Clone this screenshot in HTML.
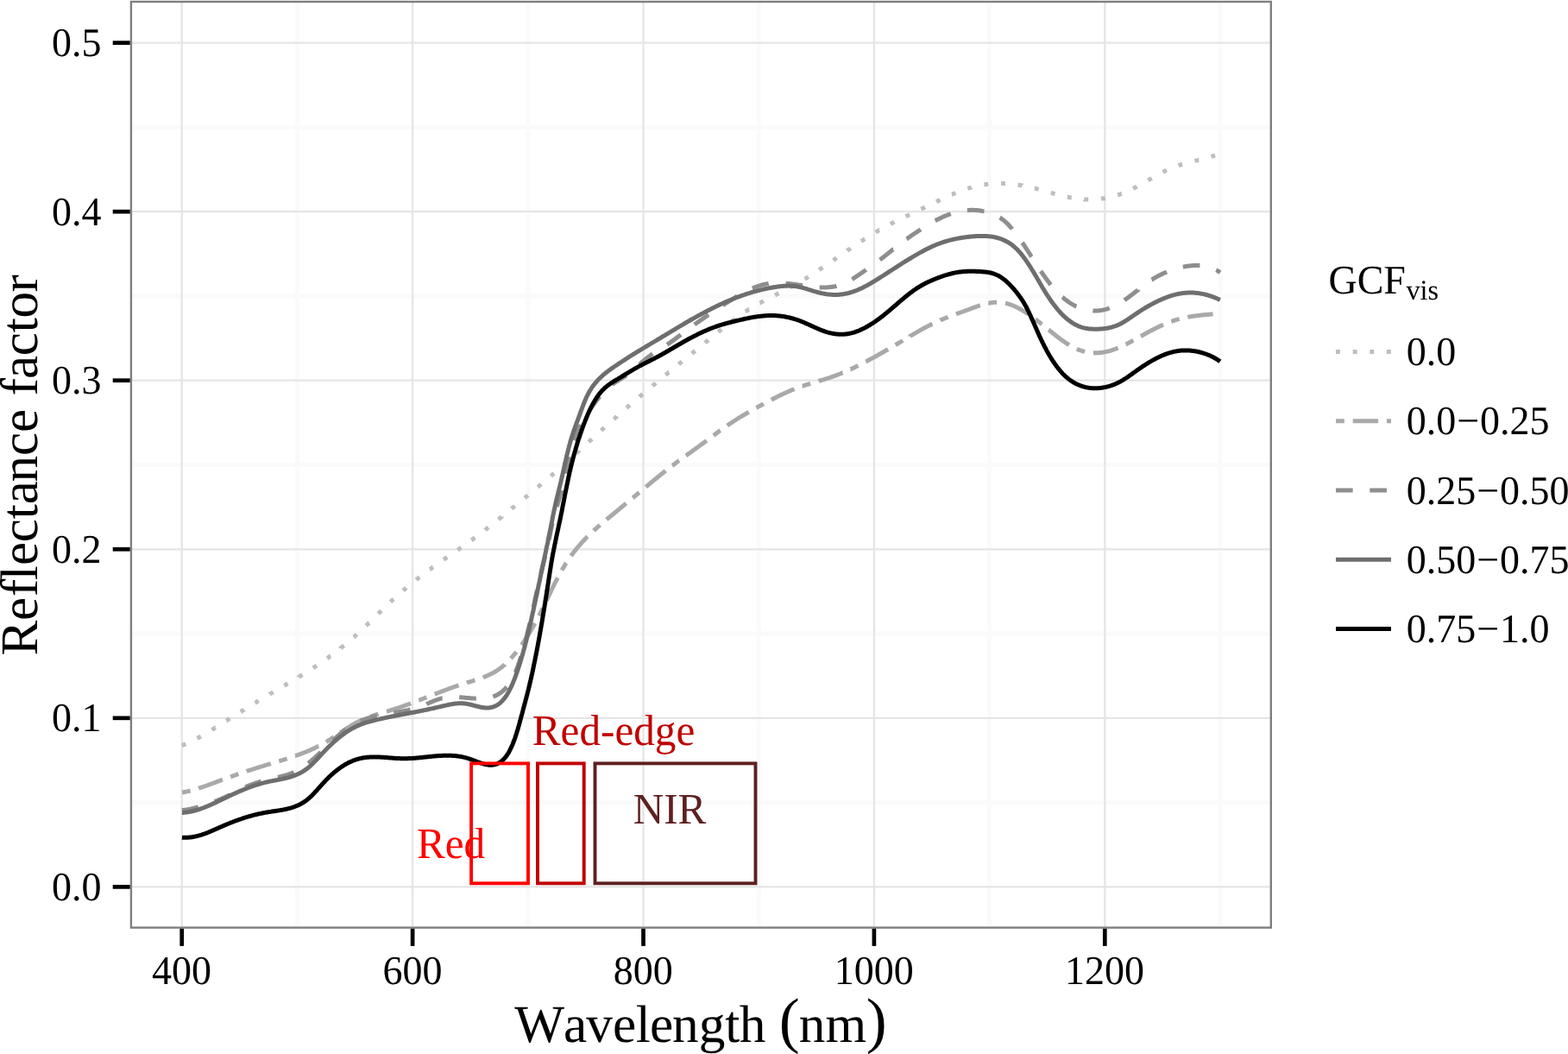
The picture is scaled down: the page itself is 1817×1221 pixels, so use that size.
<!DOCTYPE html>
<html lang="en">
<head>
<meta charset="utf-8">
<title>Reflectance factor vs Wavelength (nm)</title>
<style>
html, body { margin: 0; padding: 0; background: #ffffff; }
body { width: 1817px; height: 1221px; overflow: hidden; }
svg { display: block; }
svg text { font-kerning: none; font-variant-ligatures: none; text-rendering: geometricPrecision; white-space: pre; }
</style>
</head>
<body>
<svg width="1817" height="1221" viewBox="0 0 1817 1221" font-family='"Liberation Serif", "DejaVu Serif", serif'>
<rect x="0" y="0" width="1817" height="1221" fill="#ffffff"/>
<g stroke="#fafafa" stroke-width="4.9" fill="none">
<line x1="344.40" y1="2.0" x2="344.40" y2="1074.6"/>
<line x1="611.80" y1="2.0" x2="611.80" y2="1074.6"/>
<line x1="879.20" y1="2.0" x2="879.20" y2="1074.6"/>
<line x1="1146.60" y1="2.0" x2="1146.60" y2="1074.6"/>
<line x1="1414.00" y1="2.0" x2="1414.00" y2="1074.6"/>
<line x1="151.9" y1="929.62" x2="1472.8" y2="929.62"/>
<line x1="151.9" y1="734.06" x2="1472.8" y2="734.06"/>
<line x1="151.9" y1="538.50" x2="1472.8" y2="538.50"/>
<line x1="151.9" y1="342.94" x2="1472.8" y2="342.94"/>
<line x1="151.9" y1="147.38" x2="1472.8" y2="147.38"/>
</g>
<g stroke="#e5e5e5" stroke-width="2.3" fill="none">
<line x1="210.70" y1="2.0" x2="210.70" y2="1074.6"/>
<line x1="478.10" y1="2.0" x2="478.10" y2="1074.6"/>
<line x1="745.50" y1="2.0" x2="745.50" y2="1074.6"/>
<line x1="1012.90" y1="2.0" x2="1012.90" y2="1074.6"/>
<line x1="1280.30" y1="2.0" x2="1280.30" y2="1074.6"/>
<line x1="151.9" y1="1027.40" x2="1472.8" y2="1027.40"/>
<line x1="151.9" y1="831.84" x2="1472.8" y2="831.84"/>
<line x1="151.9" y1="636.28" x2="1472.8" y2="636.28"/>
<line x1="151.9" y1="440.72" x2="1472.8" y2="440.72"/>
<line x1="151.9" y1="245.16" x2="1472.8" y2="245.16"/>
<line x1="151.9" y1="49.60" x2="1472.8" y2="49.60"/>
</g>
<g fill="none" stroke-width="5.0" stroke-linejoin="round" stroke-linecap="butt">
<path d="M210.8,863.6 211.8,863.3 212.7,862.9 213.6,862.5 214.5,862.1 215.3,861.8M228.5,855.3 228.9,855.1 229.8,854.6 230.7,854.2 231.6,853.7 232.4,853.2 232.8,853.0M245.5,845.5 246.2,845.0 247.1,844.5 247.9,844.0 248.8,843.5 249.6,842.9 249.7,842.9M262.1,835.0 262.3,834.9 263.1,834.4 264.0,833.8 264.8,833.3 265.7,832.8 266.3,832.4M278.8,824.6 279.3,824.3 280.1,823.8 281.0,823.2 281.8,822.7 282.7,822.2 282.9,822.0M295.5,814.3 296.3,813.9 297.2,813.3 298.0,812.8 298.9,812.3 299.7,811.8M312.4,804.3 312.6,804.1 313.5,803.6 314.4,803.1 315.2,802.6 316.1,802.1 316.6,801.8M329.3,794.3 329.9,794.0 330.7,793.5 331.6,793.0 332.5,792.4 333.3,791.9 333.5,791.8M346.2,784.3 346.2,784.2 347.1,783.7 347.9,783.2 348.8,782.7 349.6,782.2 350.4,781.7M362.8,773.8 363.1,773.6 364.0,773.0 364.8,772.5 365.7,771.9 366.5,771.4 366.9,771.1M379.1,762.7 379.7,762.3 380.5,761.7 381.3,761.1 382.1,760.5 382.9,759.9 383.1,759.8M394.8,750.9 394.8,750.8 395.6,750.2 396.4,749.6 397.2,749.0 397.9,748.3 398.6,747.8M409.8,738.2 410.1,738.0 410.9,737.3 411.6,736.6 412.3,735.9 413.1,735.3 413.5,734.9M424.2,724.8 424.7,724.3 425.5,723.6 426.2,722.9 426.9,722.2 427.6,721.5 427.8,721.4M438.3,711.0 438.3,711.0 439.0,710.3 439.7,709.6 440.5,708.9 441.2,708.2 441.8,707.6M452.5,697.3 452.7,697.1 453.4,696.4 454.2,695.7 454.9,695.1 455.6,694.4 456.1,694.0M467.1,684.2 467.6,683.7 468.4,683.1 469.1,682.4 469.9,681.8 470.6,681.2 470.8,681.0M482.3,671.7 483.1,671.0 483.8,670.4 484.6,669.8 485.4,669.2 486.2,668.6M498.0,659.7 498.2,659.6 499.0,659.0 499.8,658.4 500.6,657.8 501.4,657.2 501.9,656.9M514.0,648.3 514.5,648.0 515.3,647.4 516.2,646.9 517.0,646.3 517.8,645.7 518.1,645.5M530.2,637.2 531.0,636.7 531.8,636.1 532.6,635.5 533.5,634.9 534.3,634.4 534.3,634.4M546.3,625.8 546.5,625.7 547.3,625.1 548.1,624.5 548.9,623.9 549.7,623.3 550.3,622.9M562.1,614.0 562.5,613.6 563.3,613.0 564.1,612.4 564.9,611.8 565.6,611.2 566.0,610.9M577.5,601.7 578.2,601.2 578.9,600.6 579.7,599.9 580.5,599.3 581.3,598.7 581.3,598.6M592.8,589.3 592.9,589.2 593.7,588.6 594.4,587.9 595.2,587.3 596.0,586.7 596.6,586.2M608.0,576.8 608.4,576.5 609.2,575.9 609.9,575.3 610.7,574.6 611.5,574.0 611.8,573.7M623.2,564.3 623.8,563.8 624.6,563.2 625.3,562.5 626.1,561.9 626.9,561.2 627.0,561.1M638.3,551.5 638.3,551.5 639.1,550.9 639.8,550.2 640.6,549.5 641.3,548.9 642.0,548.3M653.0,538.5 653.3,538.3 654.1,537.6 654.8,536.9 655.5,536.3 656.3,535.6 656.7,535.2M667.6,525.3 668.1,524.8 668.8,524.1 669.6,523.5 670.3,522.8 671.1,522.1 671.2,521.9M682.1,511.9 682.8,511.3 683.6,510.6 684.3,509.9 685.1,509.3 685.8,508.6M696.7,498.7 696.9,498.5 697.6,497.8 698.4,497.1 699.1,496.5 699.9,495.8 700.3,495.4M711.3,485.5 711.8,485.1 712.5,484.5 713.3,483.8 714.0,483.1 714.8,482.5 715.0,482.2M726.1,472.5 726.8,471.9 727.6,471.2 728.3,470.6 729.1,469.9 729.8,469.3 729.8,469.3M741.0,459.7 741.2,459.5 742.0,458.9 742.7,458.2 743.5,457.6 744.3,456.9 744.8,456.5M756.1,447.0 756.5,446.6 757.3,446.0 758.1,445.4 758.8,444.7 759.6,444.1 759.9,443.8M771.3,434.4 771.9,433.9 772.7,433.2 773.5,432.6 774.2,432.0 775.0,431.3 775.1,431.3M786.5,421.9 786.6,421.8 787.4,421.2 788.2,420.6 788.9,419.9 789.7,419.3 790.3,418.8M801.7,409.5 802.1,409.2 802.9,408.6 803.7,407.9 804.5,407.3 805.2,406.7 805.6,406.4M817.0,397.1 817.6,396.5 818.4,395.9 819.2,395.3 820.0,394.6 820.7,394.0 820.8,393.9M832.3,384.6 832.4,384.5 833.1,383.9 833.9,383.3 834.7,382.7 835.5,382.0 836.1,381.5M847.7,372.5 848.1,372.2 848.9,371.6 849.7,371.0 850.5,370.4 851.3,369.8 851.7,369.5M863.7,361.0 864.4,360.6 865.3,360.1 866.1,359.5 866.9,359.0 867.8,358.4 867.9,358.4M880.6,350.9 880.7,350.9 881.6,350.4 882.5,349.9 883.4,349.4 884.3,349.0 884.9,348.6M898.1,341.9 898.5,341.7 899.4,341.2 900.3,340.8 901.2,340.3 902.1,339.9 902.5,339.7M915.6,333.0 916.3,332.6 917.2,332.1 918.1,331.6 919.0,331.1 919.8,330.7 919.9,330.6M932.6,323.2 932.8,323.1 933.6,322.6 934.5,322.1 935.4,321.5 936.2,321.0 936.8,320.6M949.2,312.6 949.6,312.3 950.5,311.8 951.3,311.2 952.1,310.7 953.0,310.1 953.3,309.9M965.5,301.6 966.2,301.1 967.0,300.5 967.8,299.9 968.7,299.4 969.5,298.8 969.5,298.8M981.7,290.4 981.8,290.3 982.7,289.7 983.5,289.2 984.3,288.6 985.2,288.1 985.8,287.6M998.0,279.5 998.5,279.2 999.3,278.6 1000.2,278.1 1001.0,277.6 1001.8,277.0 1002.2,276.8M1014.7,269.0 1015.5,268.6 1016.3,268.1 1017.2,267.6 1018.0,267.1 1018.9,266.6 1019.0,266.6M1031.9,259.5 1032.1,259.4 1033.0,258.9 1033.9,258.5 1034.7,258.0 1035.6,257.6 1036.3,257.2M1049.6,250.7 1050.0,250.5 1050.9,250.1 1051.8,249.6 1052.7,249.2 1053.6,248.8 1054.0,248.6M1067.3,242.3 1068.1,241.9 1069.0,241.5 1069.9,241.0 1070.8,240.6 1071.7,240.2 1071.8,240.1M1085.0,233.7 1085.2,233.6 1086.1,233.2 1087.0,232.7 1087.9,232.3 1088.8,231.9 1089.5,231.5M1102.9,225.3 1103.3,225.2 1104.2,224.8 1105.1,224.4 1106.1,224.0 1107.0,223.6 1107.4,223.4M1121.3,218.3 1122.0,218.1 1123.0,217.8 1123.9,217.5 1124.9,217.3 1125.8,217.0 1126.0,216.9M1140.4,213.9 1140.5,213.9 1141.5,213.7 1142.5,213.6 1143.5,213.5 1144.5,213.3 1145.3,213.2M1160.0,212.5 1160.4,212.5 1161.4,212.5 1162.4,212.6 1163.4,212.6 1164.4,212.6 1164.9,212.6M1179.6,214.1 1180.4,214.2 1181.4,214.3 1182.3,214.5 1183.3,214.7 1184.3,214.8 1184.4,214.9M1198.8,218.1 1199.0,218.1 1199.9,218.3 1200.9,218.6 1201.9,218.9 1202.8,219.1 1203.6,219.3M1217.8,223.3 1218.2,223.4 1219.2,223.7 1220.2,224.0 1221.1,224.2 1222.1,224.5 1222.5,224.6M1236.8,228.2 1237.6,228.3 1238.6,228.5 1239.6,228.7 1240.6,228.9 1241.5,229.1 1241.7,229.1M1256.3,230.9 1256.4,231.0 1257.4,231.0 1258.4,231.1 1259.4,231.1 1260.4,231.1 1261.2,231.1M1275.9,230.3 1276.4,230.2 1277.4,230.1 1278.4,230.0 1279.4,229.8 1280.4,229.7 1280.8,229.6M1295.1,226.0 1295.9,225.8 1296.8,225.4 1297.8,225.1 1298.7,224.8 1299.6,224.4 1299.7,224.4M1313.1,218.4 1313.3,218.3 1314.2,217.9 1315.1,217.4 1316.0,216.9 1316.9,216.5 1317.5,216.1M1330.3,208.9 1330.8,208.6 1331.7,208.1 1332.5,207.6 1333.4,207.1 1334.3,206.6 1334.6,206.4M1347.5,199.3 1348.3,198.9 1349.2,198.5 1350.1,198.0 1351.0,197.6 1351.9,197.2M1365.6,191.7 1365.8,191.6 1366.8,191.3 1367.7,191.0 1368.7,190.7 1369.7,190.4 1370.2,190.3M1384.5,186.5 1385.1,186.3 1386.1,186.1 1387.1,185.8 1388.0,185.6 1389.0,185.3 1389.2,185.3M1403.5,181.4 1403.5,181.4 1404.4,181.1 1405.4,180.8 1406.3,180.5 1407.3,180.2 1408.1,179.9" stroke="#bebebe"/>
<path d="M211.0,918.0 211.9,917.9 212.9,917.7 213.9,917.5 214.9,917.3 215.8,917.1 216.8,916.9 217.8,916.6 218.8,916.4 219.7,916.2 220.6,916.0M230.1,913.2 230.3,913.1 231.3,912.8 232.2,912.5 233.2,912.2 234.1,911.9 235.1,911.6 236.0,911.2 237.0,910.9 237.9,910.6 238.8,910.3 239.8,909.9 240.7,909.6 241.7,909.2 242.6,908.9 243.6,908.5 244.5,908.2 245.4,907.9 246.4,907.5 247.3,907.2 248.2,906.8 249.2,906.5 250.1,906.1 251.1,905.8 252.0,905.4 252.9,905.1 253.9,904.7 254.8,904.4 255.7,904.0 256.7,903.7 257.6,903.3 257.9,903.2M267.1,899.9 268.0,899.6 268.9,899.2 269.8,898.9 270.8,898.6 271.7,898.2 272.7,897.9 273.6,897.6 274.6,897.2 275.5,896.9 276.4,896.6M285.7,893.4 285.9,893.3 286.9,893.0 287.8,892.7 288.8,892.4 289.7,892.1 290.7,891.8 291.6,891.5 292.6,891.2 293.5,890.9 294.5,890.6 295.4,890.3 296.4,890.0 297.4,889.7 298.3,889.4 299.3,889.1 300.2,888.8 301.2,888.5 302.1,888.2 303.1,887.9 304.0,887.6 305.0,887.3 306.0,887.0 306.9,886.7 307.9,886.4 308.8,886.1 309.8,885.8 310.7,885.5 311.7,885.3 312.7,885.0 313.6,884.7 313.9,884.6M323.3,881.7 324.1,881.5 325.1,881.2 326.1,880.9 327.0,880.6 328.0,880.3 328.9,880.0 329.9,879.7 330.8,879.4 331.8,879.1 332.7,878.8M342.1,875.6 342.2,875.6 343.2,875.2 344.1,874.9 345.0,874.6 346.0,874.2 346.9,873.9 347.9,873.6 348.8,873.2 349.7,872.8 350.7,872.5 351.6,872.1 352.5,871.8 353.5,871.4 354.4,871.0 355.3,870.7 356.3,870.3 357.2,869.9 358.1,869.5 359.0,869.1 359.9,868.7 360.9,868.3 361.8,867.9 362.7,867.5 363.6,867.1 364.5,866.6 365.4,866.2 366.3,865.8 367.2,865.3 368.1,864.9 369.0,864.4 369.3,864.3M377.9,859.5 378.6,859.1 379.5,858.6 380.3,858.0 381.2,857.5 382.0,857.0 382.8,856.4 383.7,855.9 384.5,855.3 385.4,854.8 386.2,854.2 386.3,854.2M394.5,848.7 394.5,848.7 395.3,848.1 396.2,847.5 397.0,847.0 397.8,846.4 398.6,845.9 399.5,845.3 400.3,844.8 401.2,844.2 402.0,843.7 402.8,843.1 403.7,842.6 404.5,842.1 405.4,841.5 406.2,841.0 407.1,840.5 407.9,840.0 408.8,839.5 409.7,839.0 410.5,838.5 411.4,838.0 412.3,837.5 413.2,837.0 414.1,836.6 415.0,836.1 415.9,835.7 416.8,835.2 417.7,834.8 418.6,834.4 419.5,834.0 420.0,833.8M429.2,830.1 429.7,829.9 430.7,829.6 431.6,829.3 432.5,829.0 433.5,828.6 434.4,828.3 435.4,828.0 436.4,827.7 437.3,827.4 438.3,827.1 438.5,827.0M448.0,824.2 448.8,824.0 449.8,823.7 450.7,823.4 451.7,823.1 452.6,822.8 453.6,822.5 454.5,822.2 455.5,821.9 456.5,821.6 457.4,821.3 458.4,821.0 459.3,820.7 460.3,820.4 461.2,820.1 462.2,819.7 463.1,819.4 464.1,819.1 465.0,818.8 465.9,818.4 466.9,818.1 467.8,817.8 468.8,817.4 469.7,817.1 470.7,816.8 471.6,816.4 472.5,816.1 473.5,815.7 474.4,815.4 475.4,815.1 476.1,814.8M485.3,811.3 485.7,811.2 486.6,810.8 487.5,810.4 488.5,810.1 489.4,809.7 490.3,809.3 491.2,809.0 492.2,808.6 493.1,808.3 494.0,807.9 494.5,807.7M503.7,804.1 504.3,803.9 505.2,803.5 506.2,803.2 507.1,802.8 508.0,802.5 509.0,802.1 509.9,801.7 510.8,801.4 511.8,801.0 512.7,800.7 513.6,800.3 514.6,800.0 515.5,799.6 516.5,799.3 517.4,798.9 518.3,798.6 519.3,798.2 520.2,797.9 521.1,797.5 522.1,797.2 523.0,796.9 524.0,796.5 524.9,796.2 525.9,795.8 526.8,795.5 527.7,795.2 528.7,794.9 529.6,794.5 530.6,794.2 531.5,793.9M540.9,790.9 541.1,790.8 542.0,790.5 543.0,790.3 543.9,790.0 544.9,789.7 545.8,789.4 546.8,789.1 547.8,788.8 548.7,788.5 549.7,788.2 550.4,788.0M559.7,784.8 560.1,784.6 561.0,784.3 561.9,783.9 562.9,783.5 563.8,783.1 564.7,782.7 565.6,782.3 566.5,781.9 567.4,781.5 568.3,781.0 569.2,780.6 570.1,780.1 571.0,779.7 571.9,779.2 572.7,778.7 573.6,778.2 574.5,777.7 575.3,777.1 576.2,776.6 577.0,776.0 577.8,775.5 578.6,774.9 579.4,774.3 580.2,773.7 581.0,773.1 581.8,772.5 582.6,771.8 583.3,771.2 584.1,770.5 584.9,769.9 585.0,769.7M592.0,762.7 592.6,762.1 593.3,761.3 594.0,760.6 594.6,759.8 595.3,759.1 595.9,758.3 596.5,757.5 597.2,756.8 597.8,756.0 598.4,755.2 598.4,755.2M604.3,747.3 604.4,747.2 605.0,746.3 605.5,745.5 606.1,744.7 606.7,743.9 607.2,743.0 607.8,742.2 608.3,741.4 608.9,740.5 609.4,739.7 609.9,738.8 610.5,738.0 611.0,737.2 611.5,736.3 612.1,735.5 612.6,734.6 613.1,733.7 613.6,732.9 614.1,732.0 614.7,731.2 615.2,730.3 615.7,729.4 616.2,728.6 616.7,727.7 617.2,726.8 617.7,726.0 618.2,725.1 618.7,724.2 619.1,723.4 619.6,722.5 619.9,722.0M624.5,713.3 624.8,712.8 625.3,711.9 625.7,711.0 626.2,710.1 626.6,709.2 627.1,708.3 627.6,707.4 628.0,706.5 628.4,705.6 628.9,704.8 629.0,704.5M633.3,695.7 633.7,694.9 634.1,694.0 634.6,693.0 635.0,692.1 635.4,691.2 635.9,690.3 636.3,689.4 636.7,688.5 637.2,687.6 637.6,686.7 638.0,685.8 638.5,684.9 638.9,684.0 639.3,683.1 639.8,682.2 640.2,681.3 640.6,680.4 641.1,679.5 641.5,678.6 642.0,677.7 642.4,676.8 642.8,675.9 643.3,675.0 643.7,674.1 644.2,673.3 644.6,672.4 645.1,671.5 645.6,670.6 646.0,669.7 646.3,669.2M651.0,660.5 651.3,660.0 651.8,659.2 652.3,658.3 652.9,657.5 653.4,656.6 653.9,655.8 654.4,654.9 654.9,654.1 655.5,653.2 656.0,652.4 656.2,652.2M661.7,644.0 662.2,643.3 662.8,642.5 663.4,641.7 664.0,640.9 664.6,640.1 665.2,639.3 665.9,638.5 666.5,637.7 667.1,636.9 667.7,636.2 668.4,635.4 669.0,634.6 669.6,633.8 670.3,633.1 670.9,632.3 671.6,631.5 672.2,630.8 672.9,630.0 673.6,629.3 674.2,628.5 674.9,627.8 675.6,627.1 676.3,626.3 676.9,625.6 677.6,624.9 678.3,624.2 679.0,623.4 679.7,622.7 680.4,622.0 680.9,621.6M688.0,614.8 688.4,614.4 689.1,613.7 689.9,613.1 690.6,612.4 691.3,611.7 692.1,611.1 692.8,610.4 693.6,609.7 694.3,609.1 695.1,608.4 695.3,608.2M702.8,601.9 703.5,601.3 704.3,600.7 705.1,600.0 705.8,599.4 706.6,598.8 707.4,598.1 708.1,597.5 708.9,596.9 709.7,596.2 710.5,595.6 711.2,595.0 712.0,594.3 712.8,593.7 713.5,593.0 714.3,592.4 715.1,591.8 715.9,591.1 716.6,590.5 717.4,589.9 718.2,589.2 718.9,588.6 719.7,587.9 720.5,587.3 721.3,586.7 722.0,586.0 722.8,585.4 723.6,584.8 724.3,584.1 725.1,583.5 725.6,583.1M733.2,576.8 733.6,576.5 734.4,575.8 735.1,575.2 735.9,574.6 736.7,573.9 737.4,573.3 738.2,572.6 739.0,572.0 739.8,571.4 740.5,570.7 740.8,570.5M748.4,564.2 749.0,563.7 749.7,563.0 750.5,562.4 751.3,561.7 752.0,561.1 752.8,560.5 753.6,559.8 754.3,559.2 755.1,558.5 755.9,557.9 756.7,557.3 757.4,556.6 758.2,556.0 759.0,555.3 759.7,554.7 760.5,554.1 761.3,553.4 762.1,552.8 762.8,552.2 763.6,551.5 764.4,550.9 765.2,550.3 765.9,549.7 766.7,549.0 767.5,548.4 768.3,547.8 769.1,547.2 769.9,546.5 770.6,545.9 771.2,545.4M779.0,539.4 779.4,539.2 780.2,538.6 781.0,538.0 781.8,537.4 782.6,536.8 783.4,536.2 784.2,535.6 785.0,535.0 785.8,534.4 786.6,533.8 787.0,533.6M794.9,527.8 795.5,527.4 796.3,526.8 797.1,526.2 797.9,525.6 798.8,525.0 799.6,524.5 800.4,523.9 801.2,523.3 802.0,522.7 802.8,522.1 803.6,521.5 804.4,521.0 805.3,520.4 806.1,519.8 806.9,519.2 807.7,518.6 808.5,518.0 809.3,517.4 810.1,516.8 810.9,516.2 811.7,515.7 812.5,515.1 813.3,514.5 814.1,513.9 814.9,513.3 815.7,512.7 816.5,512.1 817.4,511.5 818.2,510.9 818.8,510.4M826.7,504.5 827.0,504.3 827.8,503.7 828.6,503.1 829.4,502.5 830.2,501.9 831.0,501.3 831.8,500.7 832.6,500.2 833.4,499.6 834.2,499.0 834.7,498.7M842.7,493.0 843.2,492.6 844.1,492.1 844.9,491.5 845.7,490.9 846.5,490.4 847.4,489.8 848.2,489.3 849.0,488.7 849.9,488.2 850.7,487.6 851.6,487.1 852.4,486.6 853.3,486.0 854.1,485.5 854.9,485.0 855.8,484.4 856.6,483.9 857.5,483.4 858.4,482.9 859.2,482.3 860.1,481.8 860.9,481.3 861.8,480.8 862.6,480.3 863.5,479.8 864.4,479.3 865.2,478.8 866.1,478.3 867.0,477.8 867.8,477.3M876.4,472.5 876.6,472.4 877.4,471.9 878.3,471.4 879.2,470.9 880.1,470.4 880.9,470.0 881.8,469.5 882.7,469.0 883.6,468.5 884.5,468.1 885.0,467.8M893.7,463.2 894.2,462.9 895.1,462.5 896.0,462.0 896.9,461.5 897.8,461.1 898.6,460.6 899.5,460.2 900.4,459.7 901.3,459.3 902.2,458.9 903.1,458.4 904.0,458.0 904.9,457.5 905.8,457.1 906.7,456.7 907.6,456.3 908.6,455.8 909.5,455.4 910.4,455.0 911.3,454.6 912.2,454.2 913.1,453.8 914.0,453.4 914.9,453.0 915.9,452.6 916.8,452.2 917.7,451.8 918.6,451.4 919.6,451.1 920.5,450.7 920.5,450.7M929.8,447.3 929.9,447.3 930.8,447.0 931.8,446.6 932.7,446.3 933.7,446.0 934.6,445.7 935.6,445.4 936.6,445.1 937.5,444.8 938.5,444.5 939.1,444.3M948.6,441.5 949.0,441.3 950.0,441.1 950.9,440.8 951.9,440.5 952.8,440.2 953.8,439.9 954.8,439.6 955.7,439.3 956.7,439.0 957.6,438.7 958.6,438.4 959.5,438.1 960.5,437.8 961.4,437.5 962.4,437.1 963.3,436.8 964.3,436.5 965.2,436.2 966.1,435.8 967.1,435.5 968.0,435.1 969.0,434.8 969.9,434.4 970.8,434.1 971.8,433.7 972.7,433.3 973.6,433.0 974.6,432.6 975.5,432.2 976.4,431.8 976.5,431.8M985.5,427.8 985.6,427.8 986.5,427.4 987.4,427.0 988.3,426.5 989.2,426.1 990.1,425.7 991.0,425.2 991.9,424.8 992.8,424.4 993.7,423.9 994.4,423.5M1003.2,419.0 1003.5,418.9 1004.4,418.4 1005.2,418.0 1006.1,417.5 1007.0,417.0 1007.9,416.5 1008.8,416.1 1009.6,415.6 1010.5,415.1 1011.4,414.6 1012.3,414.1 1013.2,413.7 1014.0,413.2 1014.9,412.7 1015.8,412.2 1016.7,411.7 1017.5,411.2 1018.4,410.7 1019.3,410.2 1020.1,409.7 1021.0,409.3 1021.9,408.8 1022.8,408.3 1023.6,407.8 1024.5,407.3 1025.4,406.8 1026.2,406.3 1027.1,405.8 1028.0,405.3 1028.8,404.8 1029.1,404.6M1037.6,399.6 1038.3,399.2 1039.2,398.7 1040.0,398.2 1040.9,397.7 1041.7,397.1 1042.6,396.6 1043.5,396.1 1044.3,395.6 1045.2,395.1 1046.0,394.6 1046.1,394.5M1054.6,389.5 1054.6,389.4 1055.5,388.9 1056.3,388.4 1057.2,387.9 1058.1,387.4 1058.9,386.9 1059.8,386.4 1060.7,385.9 1061.5,385.4 1062.4,384.9 1063.3,384.4 1064.1,383.9 1065.0,383.4 1065.9,382.9 1066.7,382.4 1067.6,381.9 1068.5,381.4 1069.4,381.0 1070.2,380.5 1071.1,380.0 1072.0,379.5 1072.9,379.1 1073.8,378.6 1074.7,378.1 1075.5,377.7 1076.4,377.2 1077.3,376.8 1078.2,376.3 1079.1,375.9 1080.0,375.4 1080.5,375.2M1089.5,371.1 1090.0,370.8 1090.9,370.4 1091.9,370.1 1092.8,369.7 1093.7,369.3 1094.6,368.9 1095.6,368.5 1096.5,368.2 1097.4,367.8 1098.4,367.4 1098.6,367.3M1107.9,363.8 1108.7,363.5 1109.6,363.2 1110.5,362.9 1111.5,362.5 1112.4,362.2 1113.4,361.8 1114.3,361.5 1115.2,361.2 1116.2,360.8 1117.1,360.5 1118.1,360.1 1119.0,359.8 1119.9,359.4 1120.9,359.1 1121.8,358.8 1122.8,358.4 1123.7,358.1 1124.6,357.7 1125.6,357.4 1126.5,357.0 1127.5,356.7 1128.4,356.3 1129.3,356.0 1130.3,355.7 1131.2,355.3 1132.2,355.0 1133.1,354.7 1134.1,354.3 1135.0,354.0 1135.8,353.8M1145.3,351.2 1145.6,351.2 1146.6,351.0 1147.6,350.8 1148.6,350.7 1149.6,350.6 1150.6,350.4 1151.6,350.3 1152.6,350.3 1153.6,350.2 1154.6,350.2 1155.2,350.2M1165.0,351.2 1165.5,351.3 1166.5,351.5 1167.4,351.8 1168.4,352.0 1169.3,352.3 1170.3,352.7 1171.2,353.0 1172.2,353.3 1173.1,353.7 1174.0,354.1 1175.0,354.5 1175.9,354.9 1176.8,355.3 1177.7,355.7 1178.6,356.2 1179.5,356.6 1180.4,357.1 1181.2,357.6 1182.1,358.0 1183.0,358.5 1183.9,359.0 1184.7,359.5 1185.6,360.1 1186.4,360.6 1187.3,361.1 1188.1,361.6 1189.0,362.2 1189.8,362.7 1190.6,363.3 1191.5,363.8 1191.6,363.9M1199.7,369.7 1200.4,370.2 1201.2,370.9 1202.0,371.5 1202.8,372.1 1203.6,372.7 1204.4,373.3 1205.2,373.9 1206.0,374.5 1206.7,375.2 1207.5,375.7M1215.1,382.0 1215.3,382.1 1216.1,382.7 1216.8,383.4 1217.6,384.0 1218.4,384.6 1219.2,385.2 1219.9,385.9 1220.7,386.5 1221.5,387.1 1222.3,387.7 1223.1,388.4 1223.9,389.0 1224.6,389.6 1225.4,390.2 1226.2,390.8 1227.0,391.4 1227.8,392.0 1228.6,392.6 1229.4,393.2 1230.2,393.8 1231.0,394.4 1231.9,395.0 1232.7,395.6 1233.5,396.2 1234.3,396.7 1235.1,397.3 1236.0,397.8 1236.8,398.4 1237.7,398.9 1238.5,399.4 1238.9,399.7M1247.7,404.2 1248.3,404.5 1249.2,404.9 1250.1,405.2 1251.1,405.6 1252.0,405.9 1253.0,406.2 1253.9,406.5 1254.9,406.8 1255.9,407.1 1256.8,407.3 1257.1,407.4M1266.9,408.8 1267.7,408.8 1268.7,408.8 1269.7,408.9 1270.7,408.8 1271.7,408.8 1272.7,408.8 1273.7,408.7 1274.7,408.6 1275.7,408.5 1276.7,408.4 1277.7,408.2 1278.7,408.1 1279.7,407.9 1280.6,407.7 1281.6,407.5 1282.6,407.3 1283.6,407.1 1284.5,406.8 1285.5,406.6 1286.5,406.3 1287.4,406.0 1288.4,405.7 1289.3,405.4 1290.3,405.1 1291.2,404.7 1292.2,404.4 1293.1,404.1 1294.0,403.7 1295.0,403.3 1295.6,403.1M1304.5,398.9 1305.0,398.7 1305.9,398.3 1306.8,397.8 1307.6,397.4 1308.5,396.9 1309.4,396.4 1310.3,396.0 1311.2,395.5 1312.1,395.0 1312.9,394.5 1313.3,394.3M1321.9,389.5 1322.5,389.2 1323.4,388.7 1324.3,388.2 1325.2,387.7 1326.0,387.2 1326.9,386.7 1327.8,386.3 1328.7,385.8 1329.5,385.3 1330.4,384.8 1331.3,384.4 1332.2,383.9 1333.1,383.4 1334.0,382.9 1334.8,382.5 1335.7,382.0 1336.6,381.6 1337.5,381.1 1338.4,380.7 1339.3,380.2 1340.2,379.8 1341.1,379.3 1342.0,378.9 1342.9,378.5 1343.8,378.0 1344.7,377.6 1345.6,377.2 1346.5,376.8 1347.4,376.4 1348.1,376.1M1357.3,372.4 1357.7,372.3 1358.6,372.0 1359.6,371.6 1360.5,371.3 1361.5,371.0 1362.4,370.7 1363.4,370.4 1364.3,370.2 1365.3,369.9 1366.3,369.6 1366.7,369.5M1376.3,367.4 1377.0,367.2 1378.0,367.1 1379.0,366.9 1380.0,366.7 1381.0,366.6 1381.9,366.4 1382.9,366.3 1383.9,366.1 1384.9,366.0 1385.9,365.9 1386.9,365.7 1387.9,365.6 1388.9,365.5 1389.9,365.4 1390.9,365.2 1391.9,365.1 1392.9,365.0 1393.9,364.9 1394.8,364.8 1395.8,364.7 1396.8,364.6 1397.8,364.5 1398.8,364.4 1399.8,364.4 1400.8,364.3 1401.8,364.2 1402.8,364.1 1403.8,364.0 1404.8,363.9 1405.6,363.8" stroke="#a9a9a9"/>
<path d="M210.9,938.7 211.9,938.6 212.9,938.5 213.8,938.3 214.8,938.2 215.8,938.1 216.8,937.9 217.8,937.7 218.8,937.5 219.8,937.4 220.7,937.2 221.7,937.0 222.7,936.7 223.7,936.5 224.6,936.3 225.6,936.0 226.6,935.8 227.6,935.5 228.5,935.3 229.5,935.0 230.0,934.8M248.6,928.6 249.4,928.3 250.3,927.9 251.2,927.6 252.2,927.2 253.1,926.8 254.0,926.4 255.0,926.1 255.9,925.7 256.8,925.3 257.7,924.9 258.6,924.5 259.5,924.1 260.5,923.7 261.4,923.2 262.3,922.8 263.2,922.4 264.1,922.0 265.0,921.5 265.9,921.1 266.7,920.7M284.2,911.9 284.7,911.7 285.6,911.3 286.5,910.9 287.4,910.5 288.3,910.1 289.3,909.7 290.2,909.4 291.1,909.0 292.1,908.6 293.0,908.3 293.9,907.9 294.9,907.6 295.8,907.3 296.8,906.9 297.7,906.6 298.7,906.3 299.6,906.0 300.6,905.7 301.5,905.4 302.5,905.2 302.7,905.1M321.8,900.4 321.9,900.4 322.9,900.2 323.9,899.9 324.8,899.7 325.8,899.5 326.8,899.2 327.8,899.0 328.7,898.7 329.7,898.4 330.6,898.2 331.6,897.9 332.6,897.6 333.5,897.3 334.5,897.0 335.4,896.7 336.4,896.3 337.3,896.0 338.2,895.6 339.1,895.2 340.1,894.8 340.5,894.6M357.1,884.2 357.8,883.7 358.6,883.1 359.4,882.4 360.1,881.8 360.9,881.2 361.7,880.5 362.4,879.8 363.2,879.2 363.9,878.5 364.7,877.9 365.4,877.2 366.1,876.5 366.9,875.8 367.6,875.2 368.3,874.5 369.1,873.8 369.8,873.1 370.5,872.4 371.3,871.7 371.8,871.2M386.0,857.5 386.4,857.2 387.1,856.5 387.9,855.8 388.6,855.1 389.3,854.5 390.1,853.8 390.8,853.1 391.6,852.5 392.3,851.8 393.1,851.1 393.8,850.5 394.6,849.8 395.4,849.2 396.1,848.6 396.9,847.9 397.7,847.3 398.5,846.7 399.3,846.1 400.1,845.5 400.9,844.9 401.0,844.8M418.0,835.0 418.2,834.9 419.1,834.6 420.0,834.2 421.0,833.8 421.9,833.5 422.8,833.2 423.8,832.8 424.7,832.5 425.7,832.2 426.6,831.9 427.6,831.6 428.6,831.3 429.5,831.1 430.5,830.8 431.5,830.5 432.4,830.3 433.4,830.1 434.4,829.8 435.3,829.6 436.3,829.4 436.8,829.3M456.2,825.8 457.0,825.6 458.0,825.5 459.0,825.3 459.9,825.1 460.9,825.0 461.9,824.8 462.9,824.6 463.9,824.5 464.9,824.3 465.9,824.1 466.8,823.9 467.8,823.7 468.8,823.5 469.8,823.3 470.8,823.1 471.7,822.9 472.7,822.7 473.7,822.5 474.7,822.2 475.5,822.0M494.2,815.7 494.5,815.5 495.4,815.1 496.4,814.7 497.3,814.3 498.2,813.9 499.1,813.5 500.0,813.1 501.0,812.8 501.9,812.4 502.8,812.0 503.7,811.6 504.7,811.3 505.6,810.9 506.6,810.6 507.5,810.3 508.5,809.9 509.4,809.6 510.4,809.4 511.3,809.1 512.3,808.8 512.6,808.8M532.2,807.7 532.2,807.7 533.2,807.8 534.2,807.8 535.2,807.9 536.2,808.0 537.2,808.1 538.2,808.2 539.2,808.3 540.2,808.4 541.2,808.4 542.2,808.5 543.2,808.6 544.2,808.7 545.2,808.8 546.2,808.9 547.1,808.9 548.1,809.0 549.1,809.1 550.1,809.1 551.1,809.2 551.8,809.2M571.3,807.0 571.9,806.8 572.8,806.4 573.7,806.0 574.7,805.6 575.6,805.2 576.5,804.8 577.3,804.3 578.2,803.8 579.0,803.2 579.9,802.7 580.7,802.1 581.5,801.5 582.2,800.9 583.0,800.2 583.7,799.5 584.5,798.8 585.2,798.1 585.9,797.4 586.5,796.7 587.2,795.9 587.3,795.8M597.1,778.8 597.2,778.6 597.6,777.7 597.9,776.8 598.3,775.9 598.7,774.9 599.1,774.0 599.4,773.1 599.8,772.1 600.1,771.2 600.5,770.3 600.8,769.3 601.1,768.4 601.5,767.4 601.8,766.5 602.1,765.5 602.4,764.6 602.7,763.6 603.1,762.7 603.4,761.7 603.7,760.8 603.8,760.2M609.2,741.3 609.4,740.6 609.6,739.6 609.9,738.6 610.1,737.7 610.3,736.7 610.6,735.7 610.8,734.7 611.1,733.8 611.3,732.8 611.5,731.8 611.8,730.9 612.0,729.9 612.2,728.9 612.5,727.9 612.7,727.0 612.9,726.0 613.2,725.0 613.4,724.0 613.6,723.1 613.8,722.1 613.8,722.1M618.2,702.8 618.2,702.6 618.4,701.6 618.6,700.6 618.9,699.6 619.1,698.7 619.3,697.7 619.5,696.7 619.7,695.7 619.9,694.8 620.1,693.8 620.3,692.8 620.6,691.8 620.8,690.9 621.0,689.9 621.2,688.9 621.4,687.9 621.6,686.9 621.9,686.0 622.1,685.0 622.3,684.0 622.4,683.6M626.8,664.3 626.9,663.5 627.2,662.6 627.4,661.6 627.6,660.6 627.9,659.6 628.1,658.7 628.3,657.7 628.6,656.7 628.8,655.8 629.1,654.8 629.3,653.8 629.5,652.8 629.8,651.9 630.0,650.9 630.3,649.9 630.5,649.0 630.8,648.0 631.0,647.0 631.3,646.0 631.5,645.1 631.5,645.0M636.0,625.6 636.0,625.6 636.2,624.6 636.5,623.6 636.7,622.7 636.9,621.7 637.1,620.7 637.3,619.7 637.5,618.7 637.7,617.8 637.9,616.8 638.1,615.8 638.3,614.8 638.5,613.8 638.7,612.9 638.9,611.9 639.1,610.9 639.3,609.9 639.5,608.9 639.7,608.0 639.9,607.0 640.1,606.2M645.3,587.0 645.4,586.7 645.7,585.8 646.0,584.8 646.3,583.9 646.6,582.9 646.9,581.9 647.2,581.0 647.4,580.0 647.7,579.1 648.0,578.1 648.3,577.1 648.6,576.2 648.8,575.2 649.1,574.3 649.4,573.3 649.6,572.3 649.9,571.4 650.1,570.4 650.4,569.4 650.6,568.4 650.7,567.9M655.2,548.6 655.3,548.0 655.5,547.0 655.8,546.0 656.0,545.0 656.2,544.1 656.4,543.1 656.6,542.1 656.8,541.1 657.1,540.2 657.3,539.2 657.5,538.2 657.7,537.2 658.0,536.3 658.2,535.3 658.4,534.3 658.6,533.3 658.9,532.4 659.1,531.4 659.3,530.4 659.6,529.5 659.6,529.2M665.2,510.2 665.5,509.3 665.9,508.4 666.2,507.4 666.6,506.5 666.9,505.6 667.3,504.6 667.7,503.7 668.0,502.8 668.4,501.9 668.8,500.9 669.2,500.0 669.6,499.1 670.0,498.2 670.4,497.3 670.9,496.4 671.3,495.5 671.7,494.6 672.2,493.7 672.6,492.8 673.0,492.0M683.3,475.1 683.5,474.8 684.1,474.0 684.7,473.2 685.2,472.4 685.8,471.6 686.4,470.8 687.0,469.9 687.6,469.1 688.2,468.3 688.8,467.5 689.3,466.7 689.9,465.9 690.5,465.1 691.1,464.3 691.7,463.5 692.4,462.7 693.0,461.9 693.6,461.1 694.2,460.4 694.8,459.6 695.1,459.3M709.2,445.5 709.9,445.0 710.7,444.5 711.5,443.9 712.4,443.3 713.2,442.8 714.1,442.3 714.9,441.7 715.8,441.2 716.6,440.7 717.5,440.2 718.3,439.7 719.2,439.1 720.0,438.6 720.9,438.1 721.7,437.6 722.6,437.0 723.4,436.5 724.3,436.0 725.1,435.4 725.8,434.9M741.0,422.3 741.3,422.0 742.0,421.3 742.7,420.7 743.5,420.0 744.2,419.3 745.0,418.7 745.7,418.0 746.5,417.4 747.3,416.7 748.0,416.1 748.8,415.4 749.6,414.8 750.4,414.2 751.2,413.6 752.0,413.0 752.8,412.4 753.6,411.8 754.4,411.2 755.2,410.7 756.0,410.1 756.3,409.9M773.0,399.3 773.7,398.8 774.6,398.2 775.4,397.6 776.2,397.1 777.0,396.5 777.8,395.9 778.6,395.3 779.5,394.7 780.3,394.2 781.1,393.6 781.9,393.0 782.7,392.4 783.5,391.8 784.3,391.2 785.1,390.6 785.9,390.0 786.7,389.4 787.5,388.8 788.3,388.2 788.9,387.7M804.8,376.0 805.2,375.7 806.0,375.1 806.8,374.6 807.6,374.0 808.5,373.4 809.3,372.8 810.1,372.3 810.9,371.7 811.7,371.1 812.6,370.5 813.4,370.0 814.2,369.4 815.0,368.8 815.9,368.3 816.7,367.7 817.5,367.1 818.3,366.6 819.2,366.0 820.0,365.4 820.8,364.9 821.1,364.7M837.6,353.8 838.3,353.3 839.2,352.7 840.0,352.2 840.8,351.6 841.7,351.1 842.5,350.5 843.4,350.0 844.2,349.5 845.0,348.9 845.9,348.4 846.7,347.8 847.6,347.3 848.4,346.8 849.3,346.2 850.1,345.7 851.0,345.2 851.8,344.7 852.7,344.1 853.5,343.6 854.3,343.2M871.8,334.0 872.1,333.9 873.0,333.5 874.0,333.1 874.9,332.8 875.8,332.4 876.8,332.1 877.7,331.7 878.7,331.4 879.6,331.1 880.6,330.8 881.5,330.5 882.5,330.2 883.5,330.0 884.4,329.7 885.4,329.5 886.4,329.3 887.4,329.1 888.3,328.9 889.3,328.7 890.3,328.6 890.7,328.5M910.5,328.2 911.3,328.3 912.3,328.4 913.3,328.5 914.2,328.6 915.2,328.7 916.2,328.8 917.2,329.0 918.2,329.1 919.2,329.2 920.2,329.3 921.2,329.5 922.2,329.6 923.2,329.7 924.2,329.9 925.2,330.0 926.1,330.2 927.1,330.3 928.1,330.5 929.1,330.6 930.1,330.7M949.7,332.9 950.0,332.9 951.0,332.9 952.0,332.9 953.0,333.0 954.0,333.0 955.0,333.0 956.0,332.9 957.0,332.9 958.0,332.9 959.0,332.8 960.0,332.8 961.0,332.7 962.0,332.6 963.0,332.5 964.0,332.3 965.0,332.2 965.9,332.0 966.9,331.9 967.9,331.7 968.9,331.5 969.4,331.3M987.3,323.5 988.0,323.1 988.9,322.6 989.7,322.0 990.6,321.5 991.4,320.9 992.2,320.4 993.1,319.8 993.9,319.3 994.7,318.7 995.6,318.1 996.4,317.6 997.2,317.0 998.0,316.4 998.9,315.9 999.7,315.3 1000.5,314.7 1001.3,314.1 1002.1,313.6 1003.0,313.0 1003.6,312.5M1019.6,301.0 1020.0,300.7 1020.8,300.1 1021.6,299.5 1022.4,298.9 1023.2,298.3 1024.0,297.7 1024.7,297.0 1025.5,296.4 1026.3,295.8 1027.1,295.2 1027.9,294.6 1028.7,293.9 1029.4,293.3 1030.2,292.7 1031.0,292.1 1031.8,291.4 1032.6,290.8 1033.3,290.2 1034.1,289.6 1034.9,288.9 1035.0,288.9M1050.6,276.9 1050.8,276.8 1051.6,276.2 1052.4,275.6 1053.2,275.0 1054.0,274.4 1054.9,273.9 1055.7,273.3 1056.5,272.7 1057.3,272.2 1058.2,271.6 1059.0,271.0 1059.8,270.5 1060.6,269.9 1061.5,269.4 1062.3,268.8 1063.1,268.3 1064.0,267.7 1064.8,267.2 1065.7,266.6 1066.5,266.1 1066.9,265.8M1083.7,255.7 1084.5,255.3 1085.4,254.8 1086.3,254.4 1087.2,253.9 1088.1,253.5 1089.0,253.0 1089.9,252.6 1090.8,252.2 1091.7,251.7 1092.6,251.3 1093.5,250.9 1094.4,250.5 1095.4,250.1 1096.3,249.7 1097.2,249.4 1098.1,249.0 1099.1,248.6 1100.0,248.3 1100.9,248.0 1101.7,247.7M1120.8,243.5 1121.4,243.5 1122.4,243.4 1123.4,243.4 1124.4,243.4 1125.4,243.3 1126.4,243.3 1127.4,243.3 1128.4,243.4 1129.4,243.4 1130.4,243.5 1131.4,243.5 1132.4,243.6 1133.4,243.7 1134.4,243.8 1135.4,244.0 1136.4,244.1 1137.4,244.3 1138.3,244.4 1139.3,244.6 1140.3,244.8 1140.4,244.8M1158.6,252.0 1158.8,252.1 1159.6,252.7 1160.4,253.3 1161.2,253.9 1162.0,254.5 1162.8,255.1 1163.6,255.7 1164.4,256.4 1165.1,257.1 1165.8,257.7 1166.6,258.4 1167.3,259.1 1168.0,259.8 1168.7,260.5 1169.4,261.3 1170.1,262.0 1170.7,262.8 1171.4,263.5 1172.0,264.3 1172.7,265.0 1172.9,265.3M1184.6,281.1 1185.2,281.9 1185.7,282.7 1186.3,283.6 1186.9,284.4 1187.4,285.2 1188.0,286.1 1188.5,286.9 1189.1,287.7 1189.6,288.6 1190.2,289.4 1190.7,290.2 1191.2,291.1 1191.8,291.9 1192.3,292.8 1192.9,293.6 1193.4,294.4 1193.9,295.3 1194.5,296.1 1195.0,297.0 1195.4,297.5M1206.1,314.0 1206.5,314.6 1207.0,315.4 1207.6,316.2 1208.2,317.1 1208.7,317.9 1209.3,318.7 1209.9,319.5 1210.5,320.3 1211.0,321.2 1211.6,322.0 1212.2,322.8 1212.8,323.6 1213.4,324.4 1214.0,325.2 1214.6,326.0 1215.2,326.8 1215.8,327.6 1216.4,328.4 1217.0,329.2 1217.6,330.0M1231.1,344.2 1231.4,344.4 1232.2,345.1 1232.9,345.7 1233.7,346.4 1234.5,347.0 1235.3,347.6 1236.1,348.2 1236.9,348.8 1237.7,349.4 1238.5,349.9 1239.3,350.5 1240.2,351.1 1241.0,351.6 1241.9,352.1 1242.7,352.6 1243.6,353.1 1244.5,353.6 1245.4,354.1 1246.2,354.5 1247.1,355.0 1247.4,355.1M1266.4,360.0 1266.4,360.0 1267.4,360.1 1268.4,360.1 1269.4,360.1 1270.4,360.1 1271.4,360.0 1272.4,359.9 1273.4,359.8 1274.3,359.7 1275.3,359.6 1276.3,359.4 1277.3,359.3 1278.3,359.1 1279.3,358.8 1280.2,358.6 1281.2,358.4 1282.2,358.1 1283.1,357.8 1284.1,357.5 1285.0,357.2 1285.7,356.9M1303.0,347.7 1303.5,347.3 1304.3,346.7 1305.2,346.2 1306.0,345.6 1306.8,345.0 1307.6,344.4 1308.4,343.8 1309.2,343.2 1310.0,342.6 1310.8,342.0 1311.6,341.4 1312.4,340.8 1313.2,340.2 1314.0,339.6 1314.8,339.0 1315.5,338.4 1316.3,337.7 1317.1,337.1 1317.9,336.5 1318.7,335.9 1318.7,335.8M1334.5,324.1 1334.8,324.0 1335.6,323.4 1336.4,322.9 1337.3,322.4 1338.2,321.9 1339.0,321.4 1339.9,320.9 1340.8,320.4 1341.6,319.9 1342.5,319.4 1343.4,319.0 1344.3,318.5 1345.2,318.1 1346.1,317.7 1347.0,317.2 1347.9,316.8 1348.8,316.4 1349.8,316.0 1350.7,315.6 1351.6,315.3 1352.0,315.1M1370.8,309.3 1371.7,309.1 1372.6,308.9 1373.6,308.7 1374.6,308.5 1375.6,308.4 1376.6,308.2 1377.6,308.1 1378.6,308.0 1379.6,307.9 1380.6,307.8 1381.6,307.7 1382.6,307.6 1383.6,307.6 1384.6,307.5 1385.6,307.5 1386.6,307.5 1387.6,307.5 1388.6,307.5 1389.6,307.6 1390.4,307.6M1409.2,312.8 1409.7,313.0 1410.5,313.5 1411.4,314.0 1412.3,314.5 1413.1,315.0 1414.0,315.6" stroke="#8e8e8e"/>
<path d="M210.9,941.4 211.9,941.4 212.9,941.3 213.9,941.2 214.9,941.1 215.9,941.0 216.9,940.9 217.9,940.7 218.9,940.5 219.8,940.4 220.8,940.2 221.8,940.0 222.8,939.8 223.8,939.5 224.7,939.3 225.7,939.0 226.7,938.8 227.6,938.5 228.6,938.2 229.5,937.9 230.5,937.6 231.4,937.3 232.4,937.0 233.3,936.7 234.3,936.3 235.2,936.0 236.1,935.6 237.1,935.3 238.0,934.9 238.9,934.5 239.9,934.1 240.8,933.8 241.7,933.4 242.6,933.0 243.5,932.6 244.4,932.2 245.4,931.8 246.3,931.3 247.2,930.9 248.1,930.5 249.0,930.1 249.9,929.7 250.8,929.2 251.7,928.8 252.6,928.4 253.5,927.9 254.4,927.5 255.3,927.1 256.2,926.6 257.1,926.2 258.0,925.8 258.9,925.3 259.8,924.9 260.7,924.5 261.6,924.0 262.5,923.6 263.4,923.2 264.3,922.7 265.2,922.3 266.1,921.9 267.0,921.5 268.0,921.0 268.9,920.6 269.8,920.2 270.7,919.8 271.6,919.4 272.5,919.0 273.4,918.5 274.3,918.1 275.2,917.7 276.2,917.3 277.1,916.9 278.0,916.5 278.9,916.1 279.8,915.7 280.7,915.4 281.7,915.0 282.6,914.6 283.5,914.2 284.5,913.8 285.4,913.5 286.3,913.1 287.2,912.8 288.2,912.4 289.1,912.0 290.1,911.7 291.0,911.4 291.9,911.0 292.9,910.7 293.8,910.4 294.8,910.0 295.7,909.7 296.7,909.4 297.6,909.1 298.6,908.8 299.5,908.5 300.5,908.2 301.5,908.0 302.4,907.7 303.4,907.4 304.3,907.2 305.3,906.9 306.3,906.7 307.3,906.4 308.2,906.2 309.2,906.0 310.2,905.8 311.2,905.5 312.1,905.3 313.1,905.1 314.1,904.9 315.1,904.7 316.1,904.6 317.0,904.4 318.0,904.2 319.0,904.0 320.0,903.8 321.0,903.6 322.0,903.4 322.9,903.2 323.9,903.0 324.9,902.8 325.9,902.6 326.9,902.4 327.8,902.2 328.8,902.0 329.8,901.8 330.8,901.5 331.7,901.3 332.7,901.1 333.7,900.8 334.6,900.5 335.6,900.3 336.5,900.0 337.5,899.7 338.5,899.4 339.4,899.0 340.3,898.7 341.3,898.4 342.2,898.0 343.1,897.6 344.1,897.2 345.0,896.8 345.9,896.4 346.8,896.0 347.7,895.5 348.6,895.1 349.4,894.6 350.3,894.1 351.2,893.6 352.0,893.0 352.9,892.5 353.7,891.9 354.5,891.4 355.3,890.8 356.1,890.2 356.9,889.5 357.7,888.9 358.4,888.3 359.2,887.6 359.9,886.9 360.7,886.3 361.4,885.6 362.1,884.9 362.8,884.2 363.5,883.5 364.2,882.8 364.9,882.1 365.6,881.3 366.3,880.6 367.0,879.9 367.7,879.2 368.4,878.4 369.1,877.7 369.7,877.0 370.4,876.2 371.1,875.5 371.8,874.8 372.4,874.0 373.1,873.3 373.8,872.5 374.5,871.8 375.2,871.1 375.9,870.4 376.5,869.6 377.2,868.9 377.9,868.2 378.6,867.5 379.3,866.8 380.0,866.1 380.7,865.4 381.5,864.6 382.2,864.0 382.9,863.3 383.6,862.6 384.3,861.9 385.1,861.2 385.8,860.5 386.5,859.8 387.3,859.2 388.0,858.5 388.8,857.9 389.5,857.2 390.3,856.5 391.1,855.9 391.8,855.3 392.6,854.6 393.4,854.0 394.2,853.4 395.0,852.8 395.8,852.2 396.6,851.5 397.4,851.0 398.2,850.4 399.0,849.8 399.8,849.2 400.6,848.6 401.4,848.1 402.3,847.5 403.1,847.0 404.0,846.4 404.8,845.9 405.7,845.4 406.5,844.9 407.4,844.4 408.3,843.9 409.1,843.4 410.0,843.0 410.9,842.5 411.8,842.0 412.7,841.6 413.6,841.2 414.5,840.8 415.4,840.4 416.4,840.0 417.3,839.6 418.2,839.2 419.2,838.9 420.1,838.5 421.0,838.2 422.0,837.9 422.9,837.5 423.9,837.2 424.8,836.9 425.8,836.6 426.7,836.3 427.7,836.1 428.7,835.8 429.6,835.5 430.6,835.3 431.6,835.0 432.5,834.8 433.5,834.5 434.5,834.3 435.4,834.0 436.4,833.8 437.4,833.6 438.4,833.4 439.3,833.1 440.3,832.9 441.3,832.7 442.3,832.5 443.2,832.3 444.2,832.1 445.2,831.8 446.2,831.6 447.2,831.4 448.1,831.2 449.1,831.0 450.1,830.8 451.1,830.6 452.1,830.4 453.0,830.2 454.0,830.0 455.0,829.8 456.0,829.6 457.0,829.5 457.9,829.3 458.9,829.1 459.9,828.9 460.9,828.7 461.9,828.5 462.9,828.3 463.8,828.1 464.8,827.9 465.8,827.8 466.8,827.6 467.8,827.4 468.8,827.2 469.7,827.0 470.7,826.8 471.7,826.6 472.7,826.5 473.7,826.3 474.6,826.1 475.6,825.9 476.6,825.7 477.6,825.5 478.6,825.3 479.6,825.2 480.5,825.0 481.5,824.8 482.5,824.6 483.5,824.4 484.5,824.2 485.4,824.0 486.4,823.8 487.4,823.6 488.4,823.4 489.4,823.2 490.3,823.0 491.3,822.8 492.3,822.6 493.3,822.4 494.3,822.2 495.2,822.0 496.2,821.8 497.2,821.5 498.2,821.3 499.1,821.1 500.1,820.9 501.1,820.7 502.1,820.5 503.1,820.2 504.0,820.0 505.0,819.8 506.0,819.6 507.0,819.4 507.9,819.1 508.9,818.9 509.9,818.7 510.9,818.5 511.8,818.2 512.8,818.0 513.8,817.8 514.8,817.6 515.7,817.3 516.7,817.1 517.7,816.9 518.7,816.7 519.6,816.5 520.6,816.3 521.6,816.1 522.6,815.9 523.6,815.7 524.5,815.5 525.5,815.4 526.5,815.2 527.5,815.1 528.5,815.0 529.5,814.9 530.5,814.8 531.5,814.8 532.5,814.7 533.5,814.7 534.5,814.7 535.5,814.8 536.5,814.8 537.5,814.9 538.5,815.0 539.5,815.1 540.5,815.3 541.5,815.4 542.4,815.6 543.4,815.8 544.4,816.1 545.4,816.3 546.3,816.5 547.3,816.8 548.3,817.0 549.2,817.3 550.2,817.5 551.2,817.8 552.1,818.0 553.1,818.3 554.1,818.5 555.1,818.7 556.0,819.0 557.0,819.2 558.0,819.4 559.0,819.5 560.0,819.7 561.0,819.8 562.0,819.9 562.9,820.0 563.9,820.0 564.9,820.0 565.9,819.9 566.9,819.9 567.9,819.7 568.9,819.5 569.9,819.3 570.9,819.1 571.8,818.8 572.7,818.4 573.7,818.0 574.6,817.6 575.5,817.1 576.3,816.6 577.2,816.1 578.0,815.5 578.8,814.9 579.5,814.3 580.3,813.6 581.0,812.9 581.7,812.2 582.4,811.5 583.1,810.7 583.7,810.0 584.4,809.2 585.0,808.4 585.6,807.6 586.2,806.8 586.7,806.0 587.3,805.1 587.8,804.3 588.3,803.4 588.8,802.5 589.3,801.7 589.8,800.8 590.2,799.9 590.7,799.0 591.1,798.1 591.6,797.2 592.0,796.3 592.4,795.4 592.9,794.5 593.3,793.6 593.7,792.7 594.1,791.8 594.5,790.9 594.8,789.9 595.2,789.0 595.6,788.1 596.0,787.1 596.3,786.2 596.7,785.3 597.0,784.3 597.4,783.4 597.7,782.5 598.1,781.5 598.4,780.6 598.7,779.6 599.1,778.7 599.4,777.8 599.7,776.8 600.1,775.9 600.4,774.9 600.7,774.0 601.0,773.0 601.3,772.1 601.6,771.1 601.9,770.2 602.2,769.2 602.5,768.2 602.8,767.3 603.1,766.3 603.4,765.4 603.7,764.4 604.0,763.5 604.2,762.5 604.5,761.5 604.8,760.6 605.1,759.6 605.4,758.7 605.6,757.7 605.9,756.7 606.2,755.8 606.4,754.8 606.7,753.8 607.0,752.9 607.2,751.9 607.5,751.0 607.8,750.0 608.0,749.0 608.3,748.1 608.5,747.1 608.8,746.1 609.0,745.1 609.3,744.2 609.5,743.2 609.8,742.2 610.0,741.3 610.3,740.3 610.5,739.3 610.7,738.4 611.0,737.4 611.2,736.4 611.5,735.4 611.7,734.5 611.9,733.5 612.2,732.5 612.4,731.6 612.6,730.6 612.9,729.6 613.1,728.6 613.3,727.7 613.6,726.7 613.8,725.7 614.0,724.7 614.2,723.8 614.5,722.8 614.7,721.8 614.9,720.8 615.1,719.9 615.4,718.9 615.6,717.9 615.8,716.9 616.0,716.0 616.2,715.0 616.5,714.0 616.7,713.0 616.9,712.1 617.1,711.1 617.3,710.1 617.5,709.1 617.8,708.2 618.0,707.2 618.2,706.2 618.4,705.2 618.6,704.3 618.8,703.3 619.0,702.3 619.2,701.3 619.5,700.3 619.7,699.4 619.9,698.4 620.1,697.4 620.3,696.4 620.5,695.5 620.7,694.5 620.9,693.5 621.1,692.5 621.3,691.5 621.6,690.6 621.8,689.6 622.0,688.6 622.2,687.6 622.4,686.7 622.6,685.7 622.8,684.7 623.0,683.7 623.2,682.7 623.4,681.8 623.6,680.8 623.8,679.8 624.0,678.8 624.2,677.8 624.4,676.9 624.7,675.9 624.9,674.9 625.1,673.9 625.3,673.0 625.5,672.0 625.7,671.0 625.9,670.0 626.1,669.0 626.3,668.1 626.5,667.1 626.7,666.1 626.9,665.1 627.1,664.1 627.3,663.2 627.5,662.2 627.7,661.2 628.0,660.2 628.2,659.3 628.4,658.3 628.6,657.3 628.8,656.3 629.0,655.3 629.2,654.4 629.4,653.4 629.6,652.4 629.8,651.4 630.0,650.5 630.2,649.5 630.5,648.5 630.7,647.5 630.9,646.5 631.1,645.6 631.3,644.6 631.5,643.6 631.7,642.6 631.9,641.6 632.1,640.7 632.3,639.7 632.5,638.7 632.7,637.7 632.9,636.8 633.1,635.8 633.3,634.8 633.5,633.8 633.7,632.8 633.9,631.9 634.2,630.9 634.4,629.9 634.6,628.9 634.8,627.9 635.0,627.0 635.2,626.0 635.3,625.0 635.5,624.0 635.7,623.0 635.9,622.1 636.1,621.1 636.3,620.1 636.5,619.1 636.7,618.1 636.9,617.2 637.1,616.2 637.3,615.2 637.5,614.2 637.7,613.2 637.9,612.2 638.1,611.3 638.3,610.3 638.5,609.3 638.7,608.3 638.9,607.3 639.1,606.4 639.3,605.4 639.5,604.4 639.7,603.4 639.9,602.4 640.0,601.5 640.2,600.5 640.4,599.5 640.6,598.5 640.8,597.5 641.0,596.6 641.2,595.6 641.4,594.6 641.6,593.6 641.8,592.6 642.0,591.7 642.2,590.7 642.5,589.7 642.7,588.7 642.9,587.7 643.1,586.8 643.3,585.8 643.5,584.8 643.7,583.8 644.0,582.9 644.2,581.9 644.4,580.9 644.6,579.9 644.9,579.0 645.1,578.0 645.3,577.0 645.6,576.0 645.8,575.1 646.0,574.1 646.3,573.1 646.5,572.2 646.7,571.2 647.0,570.2 647.2,569.2 647.5,568.3 647.7,567.3 647.9,566.3 648.2,565.4 648.4,564.4 648.7,563.4 648.9,562.5 649.1,561.5 649.4,560.5 649.6,559.5 649.8,558.6 650.1,557.6 650.3,556.6 650.5,555.6 650.7,554.7 651.0,553.7 651.2,552.7 651.4,551.7 651.6,550.8 651.9,549.8 652.1,548.8 652.3,547.8 652.5,546.9 652.7,545.9 653.0,544.9 653.2,543.9 653.4,543.0 653.6,542.0 653.8,541.0 654.1,540.0 654.3,539.1 654.5,538.1 654.7,537.1 654.9,536.1 655.2,535.2 655.4,534.2 655.6,533.2 655.8,532.2 656.0,531.3 656.3,530.3 656.5,529.3 656.7,528.3 656.9,527.4 657.2,526.4 657.4,525.4 657.6,524.4 657.9,523.5 658.1,522.5 658.4,521.5 658.6,520.6 658.8,519.6 659.1,518.6 659.3,517.6 659.6,516.7 659.8,515.7 660.1,514.7 660.4,513.8 660.6,512.8 660.9,511.9 661.2,510.9 661.4,509.9 661.7,509.0 662.0,508.0 662.3,507.1 662.6,506.1 662.9,505.1 663.2,504.2 663.5,503.2 663.8,502.3 664.1,501.3 664.5,500.4 664.8,499.4 665.1,498.5 665.4,497.6 665.8,496.6 666.1,495.7 666.5,494.7 666.8,493.8 667.1,492.9 667.5,491.9 667.8,491.0 668.2,490.0 668.5,489.1 668.9,488.2 669.2,487.2 669.6,486.3 669.9,485.4 670.3,484.4 670.6,483.5 671.0,482.5 671.3,481.6 671.6,480.7 672.0,479.7 672.3,478.8 672.7,477.8 673.0,476.9 673.3,476.0 673.7,475.0 674.0,474.1 674.4,473.1 674.7,472.2 675.1,471.3 675.4,470.3 675.8,469.4 676.1,468.5 676.5,467.5 676.9,466.6 677.2,465.7 677.6,464.7 678.0,463.8 678.4,462.9 678.8,462.0 679.2,461.1 679.6,460.2 680.0,459.3 680.5,458.4 680.9,457.5 681.4,456.6 681.9,455.7 682.3,454.8 682.8,453.9 683.3,453.1 683.8,452.2 684.4,451.4 684.9,450.5 685.4,449.7 686.0,448.8 686.6,448.0 687.1,447.2 687.7,446.4 688.3,445.6 689.0,444.8 689.6,444.0 690.2,443.3 690.9,442.5 691.5,441.8 692.2,441.0 692.9,440.3 693.6,439.6 694.3,438.8 695.0,438.1 695.7,437.4 696.4,436.8 697.2,436.1 697.9,435.4 698.6,434.7 699.4,434.1 700.2,433.4 700.9,432.8 701.7,432.2 702.5,431.5 703.3,430.9 704.1,430.3 704.9,429.7 705.7,429.1 706.5,428.5 707.3,427.9 708.1,427.4 708.9,426.8 709.7,426.2 710.6,425.6 711.4,425.1 712.2,424.5 713.0,424.0 713.9,423.4 714.7,422.8 715.5,422.3 716.4,421.7 717.2,421.2 718.0,420.6 718.9,420.1 719.7,419.5 720.5,419.0 721.4,418.4 722.2,417.9 723.1,417.3 723.9,416.8 724.7,416.2 725.6,415.7 726.4,415.2 727.3,414.6 728.1,414.1 728.9,413.5 729.8,413.0 730.6,412.5 731.5,411.9 732.3,411.4 733.2,410.9 734.0,410.3 734.9,409.8 735.7,409.3 736.6,408.8 737.4,408.2 738.3,407.7 739.1,407.2 740.0,406.7 740.8,406.1 741.7,405.6 742.5,405.1 743.4,404.6 744.2,404.1 745.1,403.6 746.0,403.0 746.8,402.5 747.7,402.0 748.5,401.5 749.4,401.0 750.3,400.5 751.1,400.0 752.0,399.5 752.8,399.0 753.7,398.4 754.6,397.9 755.4,397.4 756.3,396.9 757.1,396.4 758.0,395.9 758.9,395.4 759.7,394.9 760.6,394.4 761.4,393.8 762.3,393.3 763.1,392.8 764.0,392.3 764.9,391.8 765.7,391.3 766.6,390.7 767.4,390.2 768.3,389.7 769.1,389.2 770.0,388.7 770.9,388.2 771.7,387.7 772.6,387.1 773.4,386.6 774.3,386.1 775.1,385.6 776.0,385.1 776.9,384.6 777.7,384.0 778.6,383.5 779.4,383.0 780.3,382.5 781.1,382.0 782.0,381.5 782.9,381.0 783.7,380.4 784.6,379.9 785.4,379.4 786.3,378.9 787.2,378.4 788.0,377.9 788.9,377.4 789.7,376.9 790.6,376.4 791.5,375.9 792.3,375.3 793.2,374.8 794.0,374.3 794.9,373.8 795.8,373.3 796.6,372.8 797.5,372.3 798.4,371.8 799.2,371.3 800.1,370.8 801.0,370.3 801.8,369.8 802.7,369.3 803.6,368.9 804.5,368.4 805.3,367.9 806.2,367.4 807.1,366.9 808.0,366.4 808.8,365.9 809.7,365.4 810.6,365.0 811.5,364.5 812.3,364.0 813.2,363.5 814.1,363.1 815.0,362.6 815.9,362.1 816.7,361.6 817.6,361.2 818.5,360.7 819.4,360.2 820.3,359.8 821.2,359.3 822.1,358.9 823.0,358.4 823.8,358.0 824.7,357.5 825.6,357.1 826.5,356.6 827.4,356.2 828.3,355.7 829.2,355.3 830.1,354.9 831.0,354.4 831.9,354.0 832.8,353.6 833.7,353.1 834.6,352.7 835.5,352.3 836.5,351.9 837.4,351.5 838.3,351.0 839.2,350.6 840.1,350.2 841.0,349.8 841.9,349.4 842.8,349.0 843.8,348.6 844.7,348.2 845.6,347.8 846.5,347.5 847.5,347.1 848.4,346.7 849.3,346.3 850.2,346.0 851.2,345.6 852.1,345.2 853.0,344.9 854.0,344.5 854.9,344.2 855.8,343.8 856.8,343.5 857.7,343.1 858.7,342.8 859.6,342.4 860.5,342.1 861.5,341.8 862.4,341.5 863.4,341.1 864.3,340.8 865.3,340.5 866.2,340.2 867.2,339.9 868.1,339.6 869.1,339.3 870.0,339.0 871.0,338.7 872.0,338.4 872.9,338.2 873.9,337.9 874.9,337.6 875.8,337.4 876.8,337.1 877.7,336.8 878.7,336.6 879.7,336.3 880.7,336.1 881.6,335.9 882.6,335.6 883.6,335.4 884.5,335.2 885.5,334.9 886.5,334.7 887.5,334.5 888.5,334.3 889.4,334.1 890.4,333.9 891.4,333.7 892.4,333.5 893.4,333.4 894.3,333.2 895.3,333.0 896.3,332.8 897.3,332.7 898.3,332.5 899.3,332.4 900.3,332.2 901.3,332.1 902.3,332.0 903.2,331.8 904.2,331.7 905.2,331.6 906.2,331.5 907.2,331.4 908.2,331.3 909.2,331.3 910.2,331.2 911.2,331.2 912.2,331.2 913.2,331.1 914.2,331.1 915.2,331.2 916.2,331.2 917.2,331.2 918.2,331.3 919.2,331.4 920.2,331.5 921.2,331.6 922.2,331.7 923.2,331.9 924.2,332.0 925.1,332.2 926.1,332.4 927.1,332.6 928.1,332.9 929.1,333.1 930.0,333.3 931.0,333.6 931.9,333.9 932.9,334.1 933.9,334.4 934.8,334.7 935.8,335.0 936.7,335.3 937.7,335.6 938.6,335.9 939.6,336.2 940.6,336.5 941.5,336.8 942.5,337.1 943.4,337.4 944.4,337.7 945.3,337.9 946.3,338.2 947.3,338.5 948.2,338.8 949.2,339.0 950.2,339.2 951.1,339.5 952.1,339.7 953.1,339.9 954.1,340.1 955.1,340.3 956.0,340.5 957.0,340.6 958.0,340.8 959.0,340.9 960.0,341.0 961.0,341.1 962.0,341.2 963.0,341.3 964.0,341.3 965.0,341.4 966.0,341.4 967.0,341.4 968.0,341.5 969.0,341.4 970.0,341.4 971.0,341.4 972.0,341.3 973.0,341.2 974.0,341.1 975.0,341.0 976.0,340.9 977.0,340.8 977.9,340.6 978.9,340.4 979.9,340.2 980.9,340.0 981.9,339.8 982.8,339.6 983.8,339.3 984.8,339.0 985.7,338.8 986.7,338.5 987.6,338.2 988.6,337.9 989.5,337.5 990.5,337.2 991.4,336.8 992.3,336.5 993.3,336.1 994.2,335.7 995.1,335.3 996.0,334.9 996.9,334.5 997.9,334.1 998.8,333.7 999.7,333.2 1000.6,332.8 1001.4,332.3 1002.3,331.9 1003.2,331.4 1004.1,330.9 1005.0,330.5 1005.9,330.0 1006.7,329.5 1007.6,329.0 1008.5,328.5 1009.3,328.0 1010.2,327.5 1011.1,327.0 1011.9,326.5 1012.8,326.0 1013.6,325.4 1014.5,324.9 1015.3,324.4 1016.2,323.9 1017.0,323.3 1017.9,322.8 1018.7,322.3 1019.6,321.7 1020.4,321.2 1021.2,320.6 1022.1,320.1 1022.9,319.6 1023.8,319.0 1024.6,318.5 1025.5,318.0 1026.3,317.4 1027.1,316.9 1028.0,316.3 1028.8,315.8 1029.7,315.2 1030.5,314.7 1031.3,314.2 1032.2,313.6 1033.0,313.1 1033.9,312.5 1034.7,312.0 1035.5,311.4 1036.4,310.9 1037.2,310.4 1038.1,309.8 1038.9,309.3 1039.7,308.7 1040.6,308.2 1041.4,307.7 1042.3,307.1 1043.1,306.6 1044.0,306.1 1044.8,305.5 1045.6,305.0 1046.5,304.4 1047.3,303.9 1048.2,303.4 1049.0,302.8 1049.9,302.3 1050.7,301.8 1051.6,301.3 1052.4,300.7 1053.3,300.2 1054.1,299.7 1055.0,299.2 1055.9,298.7 1056.7,298.1 1057.6,297.6 1058.4,297.1 1059.3,296.6 1060.1,296.1 1061.0,295.6 1061.9,295.1 1062.7,294.6 1063.6,294.1 1064.5,293.6 1065.4,293.1 1066.2,292.6 1067.1,292.1 1068.0,291.7 1068.9,291.2 1069.7,290.7 1070.6,290.2 1071.5,289.8 1072.4,289.3 1073.3,288.9 1074.2,288.4 1075.1,288.0 1076.0,287.5 1076.9,287.1 1077.8,286.6 1078.7,286.2 1079.6,285.8 1080.5,285.4 1081.4,285.0 1082.3,284.6 1083.2,284.2 1084.2,283.8 1085.1,283.4 1086.0,283.0 1086.9,282.7 1087.9,282.3 1088.8,282.0 1089.8,281.6 1090.7,281.3 1091.6,281.0 1092.6,280.6 1093.5,280.3 1094.5,280.0 1095.5,279.7 1096.4,279.5 1097.4,279.2 1098.3,278.9 1099.3,278.6 1100.3,278.4 1101.2,278.1 1102.2,277.9 1103.2,277.7 1104.1,277.4 1105.1,277.2 1106.1,277.0 1107.1,276.8 1108.1,276.6 1109.0,276.4 1110.0,276.2 1111.0,276.0 1112.0,275.8 1113.0,275.7 1114.0,275.5 1114.9,275.3 1115.9,275.2 1116.9,275.0 1117.9,274.9 1118.9,274.8 1119.9,274.6 1120.9,274.5 1121.9,274.4 1122.9,274.3 1123.9,274.2 1124.9,274.1 1125.9,274.0 1126.9,273.9 1127.9,273.8 1128.8,273.7 1129.8,273.7 1130.8,273.6 1131.8,273.6 1132.8,273.5 1133.8,273.5 1134.8,273.5 1135.8,273.4 1136.8,273.4 1137.8,273.4 1138.8,273.4 1139.8,273.4 1140.8,273.5 1141.8,273.5 1142.8,273.6 1143.8,273.6 1144.8,273.7 1145.8,273.8 1146.8,273.9 1147.8,274.0 1148.8,274.1 1149.8,274.2 1150.8,274.4 1151.8,274.6 1152.8,274.8 1153.7,275.0 1154.7,275.2 1155.7,275.5 1156.6,275.8 1157.6,276.0 1158.5,276.4 1159.5,276.7 1160.4,277.0 1161.4,277.4 1162.3,277.8 1163.2,278.2 1164.1,278.6 1165.0,279.0 1165.9,279.5 1166.8,279.9 1167.7,280.4 1168.5,280.9 1169.4,281.4 1170.2,282.0 1171.1,282.5 1171.9,283.1 1172.7,283.7 1173.5,284.3 1174.2,285.0 1175.0,285.6 1175.8,286.3 1176.5,286.9 1177.2,287.6 1178.0,288.3 1178.7,289.0 1179.4,289.7 1180.1,290.4 1180.7,291.2 1181.4,291.9 1182.1,292.7 1182.7,293.4 1183.3,294.2 1184.0,295.0 1184.6,295.8 1185.2,296.6 1185.8,297.4 1186.4,298.2 1187.0,299.0 1187.6,299.8 1188.2,300.6 1188.7,301.4 1189.3,302.2 1189.9,303.1 1190.4,303.9 1191.0,304.7 1191.5,305.6 1192.1,306.4 1192.6,307.2 1193.2,308.1 1193.7,308.9 1194.3,309.8 1194.8,310.6 1195.3,311.5 1195.8,312.3 1196.4,313.2 1196.9,314.0 1197.4,314.9 1197.9,315.7 1198.4,316.6 1198.9,317.4 1199.4,318.3 1200.0,319.2 1200.5,320.0 1201.0,320.9 1201.5,321.7 1202.0,322.6 1202.5,323.5 1203.0,324.3 1203.5,325.2 1204.0,326.1 1204.5,326.9 1205.0,327.8 1205.5,328.7 1206.0,329.5 1206.5,330.4 1207.0,331.3 1207.5,332.1 1208.0,333.0 1208.5,333.8 1209.1,334.7 1209.6,335.6 1210.1,336.4 1210.6,337.3 1211.1,338.1 1211.7,339.0 1212.2,339.8 1212.7,340.7 1213.3,341.5 1213.8,342.3 1214.4,343.2 1214.9,344.0 1215.5,344.8 1216.0,345.7 1216.6,346.5 1217.2,347.3 1217.7,348.1 1218.3,349.0 1218.9,349.8 1219.5,350.6 1220.1,351.4 1220.7,352.2 1221.3,353.0 1221.9,353.8 1222.5,354.6 1223.1,355.4 1223.7,356.1 1224.4,356.9 1225.0,357.7 1225.6,358.5 1226.3,359.2 1226.9,360.0 1227.6,360.7 1228.3,361.5 1228.9,362.2 1229.6,362.9 1230.3,363.7 1231.0,364.4 1231.7,365.1 1232.4,365.8 1233.2,366.5 1233.9,367.2 1234.6,367.8 1235.4,368.5 1236.1,369.1 1236.9,369.8 1237.7,370.4 1238.5,371.0 1239.3,371.6 1240.1,372.2 1240.9,372.8 1241.7,373.4 1242.5,373.9 1243.4,374.5 1244.2,375.0 1245.1,375.5 1246.0,376.0 1246.9,376.4 1247.8,376.9 1248.7,377.3 1249.6,377.7 1250.5,378.1 1251.4,378.4 1252.4,378.8 1253.3,379.1 1254.3,379.4 1255.3,379.6 1256.2,379.9 1257.2,380.1 1258.2,380.3 1259.2,380.5 1260.2,380.6 1261.1,380.8 1262.1,380.9 1263.1,381.0 1264.1,381.1 1265.1,381.1 1266.1,381.2 1267.1,381.2 1268.1,381.2 1269.1,381.2 1270.1,381.2 1271.1,381.2 1272.1,381.2 1273.1,381.2 1274.1,381.1 1275.1,381.1 1276.1,381.0 1277.1,380.9 1278.1,380.8 1279.1,380.7 1280.1,380.6 1281.1,380.5 1282.1,380.3 1283.1,380.2 1284.1,380.0 1285.0,379.8 1286.0,379.6 1287.0,379.3 1288.0,379.1 1288.9,378.8 1289.9,378.5 1290.8,378.2 1291.8,377.9 1292.7,377.6 1293.7,377.2 1294.6,376.9 1295.5,376.5 1296.4,376.0 1297.3,375.6 1298.2,375.2 1299.1,374.7 1300.0,374.2 1300.9,373.7 1301.7,373.3 1302.6,372.7 1303.4,372.2 1304.3,371.7 1305.1,371.2 1306.0,370.6 1306.8,370.1 1307.6,369.5 1308.5,369.0 1309.3,368.4 1310.1,367.8 1311.0,367.3 1311.8,366.7 1312.6,366.1 1313.4,365.6 1314.2,365.0 1315.1,364.4 1315.9,363.9 1316.7,363.3 1317.5,362.7 1318.4,362.2 1319.2,361.6 1320.0,361.1 1320.9,360.5 1321.7,360.0 1322.6,359.5 1323.4,358.9 1324.3,358.4 1325.1,357.9 1326.0,357.4 1326.8,356.8 1327.7,356.3 1328.6,355.8 1329.4,355.3 1330.3,354.8 1331.2,354.3 1332.0,353.8 1332.9,353.4 1333.8,352.9 1334.7,352.4 1335.5,351.9 1336.4,351.5 1337.3,351.0 1338.2,350.5 1339.1,350.1 1340.0,349.6 1340.9,349.2 1341.8,348.8 1342.7,348.3 1343.6,347.9 1344.5,347.5 1345.4,347.1 1346.3,346.7 1347.2,346.3 1348.2,345.9 1349.1,345.5 1350.0,345.1 1350.9,344.8 1351.9,344.4 1352.8,344.1 1353.8,343.7 1354.7,343.4 1355.6,343.1 1356.6,342.7 1357.6,342.4 1358.5,342.2 1359.5,341.9 1360.4,341.6 1361.4,341.4 1362.4,341.1 1363.3,340.9 1364.3,340.7 1365.3,340.5 1366.3,340.3 1367.3,340.1 1368.2,339.9 1369.2,339.8 1370.2,339.6 1371.2,339.5 1372.2,339.4 1373.2,339.3 1374.2,339.2 1375.2,339.2 1376.2,339.1 1377.2,339.1 1378.2,339.0 1379.2,339.0 1380.2,339.0 1381.2,339.0 1382.2,339.1 1383.2,339.1 1384.2,339.2 1385.2,339.3 1386.2,339.4 1387.2,339.5 1388.2,339.6 1389.2,339.7 1390.2,339.9 1391.1,340.0 1392.1,340.2 1393.1,340.4 1394.1,340.6 1395.1,340.8 1396.0,341.0 1397.0,341.2 1398.0,341.5 1399.0,341.7 1399.9,342.0 1400.9,342.3 1401.8,342.6 1402.8,342.9 1403.7,343.2 1404.7,343.6 1405.6,343.9 1406.5,344.3 1407.5,344.6 1408.4,345.0 1409.3,345.4 1410.2,345.8 1411.2,346.2 1412.1,346.6 1413.0,347.0 1413.9,347.4" stroke="#6e6e6e"/>
<path d="M210.9,970.2 211.9,970.3 212.9,970.3 213.9,970.3 214.9,970.3 215.9,970.3 216.9,970.3 217.9,970.2 218.9,970.1 219.9,970.0 220.9,969.9 221.9,969.8 222.8,969.7 223.8,969.5 224.8,969.3 225.8,969.1 226.8,968.9 227.7,968.7 228.7,968.4 229.7,968.2 230.7,967.9 231.6,967.6 232.6,967.4 233.5,967.1 234.5,966.7 235.4,966.4 236.4,966.1 237.3,965.8 238.3,965.4 239.2,965.1 240.1,964.7 241.1,964.3 242.0,964.0 242.9,963.6 243.8,963.2 244.8,962.8 245.7,962.4 246.6,962.0 247.5,961.6 248.4,961.2 249.3,960.8 250.3,960.4 251.2,960.0 252.1,959.6 253.0,959.2 253.9,958.8 254.8,958.4 255.7,958.0 256.7,957.6 257.6,957.2 258.5,956.8 259.4,956.4 260.3,956.0 261.2,955.6 262.2,955.2 263.1,954.8 264.0,954.4 264.9,954.1 265.9,953.7 266.8,953.3 267.7,952.9 268.6,952.6 269.6,952.2 270.5,951.8 271.4,951.5 272.4,951.1 273.3,950.8 274.3,950.4 275.2,950.1 276.1,949.8 277.1,949.4 278.0,949.1 279.0,948.8 279.9,948.5 280.9,948.1 281.8,947.8 282.8,947.5 283.7,947.2 284.7,946.9 285.6,946.6 286.6,946.3 287.5,946.0 288.5,945.8 289.5,945.5 290.4,945.2 291.4,945.0 292.4,944.7 293.3,944.4 294.3,944.2 295.3,943.9 296.2,943.7 297.2,943.5 298.2,943.2 299.2,943.0 300.1,942.8 301.1,942.6 302.1,942.4 303.1,942.2 304.0,942.0 305.0,941.8 306.0,941.6 307.0,941.4 308.0,941.2 309.0,941.0 310.0,940.9 310.9,940.7 311.9,940.6 312.9,940.4 313.9,940.3 314.9,940.1 315.9,940.0 316.9,939.8 317.9,939.7 318.9,939.5 319.8,939.4 320.8,939.2 321.8,939.1 322.8,938.9 323.8,938.8 324.8,938.6 325.8,938.5 326.8,938.3 327.7,938.1 328.7,937.9 329.7,937.7 330.7,937.5 331.7,937.3 332.6,937.1 333.6,936.8 334.6,936.6 335.5,936.3 336.5,936.1 337.5,935.8 338.4,935.5 339.4,935.2 340.3,934.9 341.3,934.5 342.2,934.2 343.1,933.8 344.1,933.4 345.0,933.0 345.9,932.6 346.8,932.2 347.7,931.7 348.6,931.3 349.4,930.8 350.3,930.3 351.2,929.8 352.0,929.3 352.8,928.7 353.7,928.1 354.5,927.6 355.3,927.0 356.1,926.3 356.8,925.7 357.6,925.1 358.4,924.4 359.1,923.7 359.8,923.1 360.6,922.4 361.3,921.7 362.0,921.0 362.7,920.2 363.4,919.5 364.1,918.8 364.8,918.1 365.4,917.3 366.1,916.6 366.8,915.9 367.5,915.1 368.1,914.4 368.8,913.6 369.4,912.9 370.1,912.1 370.8,911.4 371.4,910.6 372.1,909.9 372.8,909.1 373.4,908.4 374.1,907.7 374.8,906.9 375.5,906.2 376.2,905.5 376.8,904.7 377.5,904.0 378.2,903.3 378.9,902.6 379.6,901.9 380.3,901.2 381.1,900.5 381.8,899.8 382.5,899.1 383.2,898.4 384.0,897.7 384.7,897.1 385.5,896.4 386.2,895.7 387.0,895.1 387.7,894.4 388.5,893.8 389.3,893.2 390.1,892.5 390.9,891.9 391.6,891.3 392.4,890.7 393.3,890.1 394.1,889.5 394.9,889.0 395.7,888.4 396.5,887.8 397.4,887.3 398.2,886.8 399.1,886.2 399.9,885.7 400.8,885.2 401.7,884.7 402.6,884.3 403.4,883.8 404.3,883.3 405.2,882.9 406.1,882.5 407.0,882.1 408.0,881.7 408.9,881.3 409.8,880.9 410.8,880.6 411.7,880.2 412.6,879.9 413.6,879.6 414.6,879.3 415.5,879.1 416.5,878.8 417.5,878.6 418.4,878.4 419.4,878.2 420.4,878.0 421.4,877.8 422.4,877.7 423.4,877.6 424.4,877.5 425.4,877.3 426.4,877.3 427.4,877.2 428.4,877.1 429.4,877.1 430.4,877.0 431.4,877.0 432.4,877.0 433.4,877.0 434.4,877.0 435.4,877.0 436.4,877.0 437.4,877.0 438.4,877.0 439.4,877.1 440.4,877.1 441.4,877.2 442.4,877.2 443.4,877.3 444.4,877.3 445.3,877.4 446.3,877.5 447.3,877.6 448.3,877.6 449.3,877.7 450.3,877.8 451.3,877.9 452.3,877.9 453.3,878.0 454.3,878.1 455.3,878.2 456.3,878.2 457.3,878.3 458.3,878.4 459.3,878.4 460.3,878.5 461.3,878.5 462.3,878.6 463.3,878.6 464.3,878.7 465.3,878.7 466.3,878.7 467.3,878.7 468.3,878.7 469.3,878.7 470.3,878.7 471.3,878.7 472.3,878.7 473.3,878.6 474.3,878.6 475.3,878.6 476.3,878.5 477.3,878.4 478.3,878.4 479.3,878.3 480.3,878.2 481.3,878.2 482.3,878.1 483.3,878.0 484.3,877.9 485.3,877.8 486.3,877.7 487.3,877.6 488.3,877.5 489.3,877.4 490.3,877.3 491.2,877.2 492.2,877.1 493.2,877.0 494.2,876.9 495.2,876.8 496.2,876.7 497.2,876.6 498.2,876.5 499.2,876.4 500.2,876.3 501.2,876.2 502.2,876.1 503.2,876.0 504.2,875.9 505.2,875.8 506.2,875.7 507.2,875.7 508.2,875.6 509.2,875.5 510.2,875.5 511.2,875.4 512.2,875.4 513.2,875.3 514.2,875.3 515.2,875.3 516.2,875.2 517.2,875.2 518.2,875.2 519.2,875.2 520.2,875.2 521.2,875.3 522.2,875.3 523.2,875.3 524.2,875.4 525.2,875.4 526.2,875.5 527.2,875.6 528.2,875.7 529.1,875.8 530.1,875.9 531.1,876.1 532.1,876.2 533.1,876.4 534.1,876.5 535.1,876.7 536.1,876.9 537.0,877.1 538.0,877.4 539.0,877.6 540.0,877.8 540.9,878.1 541.9,878.4 542.8,878.7 543.8,879.0 544.7,879.3 545.7,879.6 546.6,880.0 547.6,880.3 548.5,880.7 549.4,881.0 550.4,881.4 551.3,881.8 552.2,882.1 553.2,882.5 554.1,882.8 555.0,883.2 556.0,883.5 556.9,883.8 557.9,884.2 558.8,884.5 559.8,884.8 560.7,885.0 561.7,885.3 562.7,885.5 563.7,885.7 564.6,885.9 565.6,886.1 566.6,886.2 567.6,886.3 568.6,886.3 569.6,886.3 570.6,886.2 571.6,886.1 572.6,885.9 573.6,885.7 574.5,885.4 575.5,885.1 576.4,884.7 577.3,884.3 578.2,883.8 579.0,883.3 579.9,882.8 580.7,882.2 581.5,881.6 582.2,880.9 583.0,880.2 583.7,879.5 584.4,878.8 585.0,878.0 585.7,877.3 586.3,876.5 586.9,875.7 587.4,874.9 588.0,874.0 588.5,873.2 589.1,872.3 589.6,871.5 590.1,870.6 590.5,869.7 591.0,868.8 591.4,867.9 591.9,867.0 592.3,866.1 592.7,865.2 593.1,864.3 593.5,863.4 593.9,862.5 594.3,861.5 594.7,860.6 595.0,859.7 595.4,858.7 595.7,857.8 596.1,856.9 596.4,855.9 596.8,855.0 597.1,854.0 597.4,853.1 597.7,852.1 598.0,851.2 598.3,850.2 598.6,849.3 598.9,848.3 599.2,847.4 599.5,846.4 599.8,845.5 600.1,844.5 600.4,843.5 600.6,842.6 600.9,841.6 601.2,840.7 601.5,839.7 601.7,838.7 602.0,837.8 602.3,836.8 602.5,835.8 602.8,834.9 603.0,833.9 603.3,832.9 603.6,832.0 603.8,831.0 604.1,830.0 604.3,829.1 604.6,828.1 604.9,827.1 605.1,826.2 605.4,825.2 605.6,824.2 605.9,823.3 606.1,822.3 606.4,821.3 606.7,820.4 606.9,819.4 607.2,818.4 607.4,817.5 607.7,816.5 608.0,815.5 608.2,814.6 608.5,813.6 608.7,812.6 609.0,811.7 609.2,810.7 609.5,809.7 609.8,808.8 610.0,807.8 610.3,806.8 610.5,805.9 610.8,804.9 611.0,803.9 611.3,803.0 611.5,802.0 611.7,801.0 612.0,800.1 612.2,799.1 612.5,798.1 612.7,797.1 612.9,796.2 613.2,795.2 613.4,794.2 613.6,793.3 613.9,792.3 614.1,791.3 614.3,790.3 614.6,789.4 614.8,788.4 615.0,787.4 615.2,786.4 615.5,785.5 615.7,784.5 615.9,783.5 616.1,782.5 616.3,781.6 616.5,780.6 616.8,779.6 617.0,778.6 617.2,777.7 617.4,776.7 617.6,775.7 617.8,774.7 618.0,773.7 618.2,772.8 618.4,771.8 618.6,770.8 618.8,769.8 619.0,768.8 619.2,767.9 619.4,766.9 619.6,765.9 619.8,764.9 620.0,763.9 620.2,763.0 620.4,762.0 620.6,761.0 620.8,760.0 621.0,759.0 621.2,758.1 621.4,757.1 621.6,756.1 621.8,755.1 622.0,754.1 622.2,753.1 622.3,752.2 622.5,751.2 622.7,750.2 622.9,749.2 623.1,748.2 623.3,747.2 623.4,746.3 623.6,745.3 623.8,744.3 624.0,743.3 624.2,742.3 624.4,741.3 624.5,740.4 624.7,739.4 624.9,738.4 625.1,737.4 625.2,736.4 625.4,735.4 625.6,734.5 625.8,733.5 625.9,732.5 626.1,731.5 626.3,730.5 626.5,729.5 626.6,728.5 626.8,727.6 627.0,726.6 627.1,725.6 627.3,724.6 627.5,723.6 627.6,722.6 627.8,721.6 628.0,720.7 628.2,719.7 628.3,718.7 628.5,717.7 628.6,716.7 628.8,715.7 629.0,714.7 629.1,713.8 629.3,712.8 629.5,711.8 629.6,710.8 629.8,709.8 630.0,708.8 630.1,707.8 630.3,706.8 630.4,705.9 630.6,704.9 630.8,703.9 630.9,702.9 631.1,701.9 631.2,700.9 631.4,699.9 631.6,698.9 631.7,698.0 631.9,697.0 632.0,696.0 632.2,695.0 632.3,694.0 632.5,693.0 632.7,692.0 632.8,691.0 633.0,690.1 633.1,689.1 633.3,688.1 633.4,687.1 633.6,686.1 633.7,685.1 633.9,684.1 634.0,683.1 634.2,682.2 634.4,681.2 634.5,680.2 634.7,679.2 634.8,678.2 635.0,677.2 635.1,676.2 635.3,675.2 635.4,674.2 635.6,673.3 635.7,672.3 635.9,671.3 636.0,670.3 636.2,669.3 636.3,668.3 636.5,667.3 636.6,666.3 636.8,665.3 636.9,664.4 637.1,663.4 637.2,662.4 637.4,661.4 637.5,660.4 637.7,659.4 637.9,658.4 638.0,657.4 638.2,656.5 638.3,655.5 638.5,654.5 638.7,653.5 638.8,652.5 639.0,651.5 639.1,650.5 639.3,649.5 639.5,648.6 639.7,647.6 639.8,646.6 640.0,645.6 640.2,644.6 640.4,643.6 640.5,642.7 640.7,641.7 640.9,640.7 641.1,639.7 641.3,638.7 641.5,637.7 641.7,636.8 641.9,635.8 642.1,634.8 642.3,633.8 642.5,632.8 642.7,631.9 642.8,630.9 643.1,629.9 643.3,628.9 643.5,627.9 643.7,627.0 643.9,626.0 644.1,625.0 644.3,624.0 644.5,623.0 644.7,622.1 644.9,621.1 645.1,620.1 645.3,619.1 645.5,618.2 645.7,617.2 645.9,616.2 646.2,615.2 646.4,614.2 646.6,613.3 646.8,612.3 647.0,611.3 647.2,610.3 647.4,609.3 647.6,608.4 647.8,607.4 648.0,606.4 648.2,605.4 648.5,604.5 648.7,603.5 648.9,602.5 649.1,601.5 649.3,600.5 649.5,599.6 649.7,598.6 649.9,597.6 650.1,596.6 650.3,595.6 650.5,594.7 650.7,593.7 650.9,592.7 651.1,591.7 651.3,590.7 651.5,589.8 651.7,588.8 651.8,587.8 652.0,586.8 652.2,585.8 652.4,584.9 652.6,583.9 652.8,582.9 653.0,581.9 653.2,580.9 653.4,579.9 653.6,579.0 653.8,578.0 654.0,577.0 654.2,576.0 654.3,575.0 654.5,574.1 654.7,573.1 654.9,572.1 655.1,571.1 655.3,570.1 655.5,569.1 655.7,568.2 655.9,567.2 656.1,566.2 656.3,565.2 656.5,564.2 656.7,563.3 656.9,562.3 657.1,561.3 657.3,560.3 657.5,559.3 657.7,558.4 657.9,557.4 658.1,556.4 658.3,555.4 658.5,554.4 658.7,553.5 658.9,552.5 659.1,551.5 659.4,550.5 659.6,549.6 659.8,548.6 660.0,547.6 660.2,546.6 660.4,545.7 660.7,544.7 660.9,543.7 661.1,542.7 661.4,541.8 661.6,540.8 661.8,539.8 662.1,538.8 662.3,537.9 662.5,536.9 662.8,535.9 663.0,535.0 663.3,534.0 663.5,533.0 663.8,532.1 664.0,531.1 664.3,530.1 664.5,529.2 664.8,528.2 665.1,527.2 665.3,526.3 665.6,525.3 665.9,524.3 666.1,523.4 666.4,522.4 666.7,521.4 666.9,520.5 667.2,519.5 667.5,518.6 667.8,517.6 668.1,516.6 668.4,515.7 668.7,514.7 668.9,513.8 669.2,512.8 669.5,511.9 669.8,510.9 670.1,510.0 670.4,509.0 670.8,508.1 671.1,507.1 671.4,506.2 671.7,505.2 672.0,504.3 672.3,503.3 672.6,502.4 673.0,501.4 673.3,500.5 673.6,499.5 674.0,498.6 674.3,497.6 674.6,496.7 675.0,495.8 675.3,494.8 675.7,493.9 676.0,492.9 676.3,492.0 676.7,491.1 677.1,490.1 677.4,489.2 677.8,488.3 678.1,487.3 678.5,486.4 678.9,485.5 679.3,484.5 679.7,483.6 680.0,482.7 680.4,481.8 680.8,480.9 681.2,479.9 681.6,479.0 682.0,478.1 682.4,477.2 682.9,476.3 683.3,475.4 683.7,474.5 684.1,473.6 684.6,472.7 685.0,471.8 685.5,470.9 685.9,470.0 686.4,469.1 686.9,468.2 687.4,467.4 687.8,466.5 688.3,465.6 688.8,464.8 689.4,463.9 689.9,463.0 690.4,462.2 690.9,461.4 691.5,460.5 692.1,459.7 692.6,458.9 693.2,458.1 693.8,457.2 694.4,456.5 695.0,455.7 695.7,454.9 696.3,454.1 697.0,453.4 697.6,452.6 698.3,451.9 699.0,451.2 699.7,450.5 700.5,449.8 701.2,449.1 702.0,448.5 702.7,447.8 703.5,447.2 704.3,446.6 705.1,446.0 705.9,445.4 706.7,444.8 707.5,444.3 708.4,443.7 709.2,443.1 710.0,442.6 710.9,442.1 711.7,441.5 712.6,441.0 713.5,440.5 714.3,440.0 715.2,439.5 716.0,439.0 716.9,438.4 717.7,437.9 718.6,437.4 719.4,436.9 720.3,436.4 721.1,435.8 722.0,435.3 722.8,434.8 723.7,434.3 724.6,433.7 725.4,433.2 726.3,432.7 727.1,432.2 728.0,431.6 728.8,431.1 729.7,430.6 730.5,430.1 731.4,429.6 732.2,429.1 733.1,428.6 734.0,428.0 734.8,427.5 735.7,427.0 736.6,426.6 737.4,426.1 738.3,425.6 739.2,425.1 740.1,424.6 741.0,424.1 741.8,423.7 742.7,423.2 743.6,422.7 744.5,422.3 745.4,421.8 746.3,421.4 747.2,420.9 748.1,420.5 748.9,420.0 749.8,419.6 750.7,419.1 751.6,418.7 752.5,418.2 753.4,417.8 754.3,417.3 755.2,416.9 756.1,416.4 757.0,415.9 757.9,415.5 758.8,415.0 759.6,414.6 760.5,414.1 761.4,413.6 762.3,413.2 763.2,412.7 764.1,412.2 764.9,411.7 765.8,411.2 766.7,410.7 767.5,410.3 768.4,409.8 769.3,409.3 770.2,408.8 771.0,408.3 771.9,407.8 772.8,407.3 773.6,406.8 774.5,406.3 775.3,405.8 776.2,405.2 777.1,404.7 777.9,404.2 778.8,403.7 779.7,403.2 780.5,402.7 781.4,402.2 782.2,401.7 783.1,401.2 784.0,400.7 784.8,400.2 785.7,399.7 786.6,399.2 787.4,398.7 788.3,398.2 789.2,397.7 790.0,397.2 790.9,396.7 791.8,396.2 792.6,395.7 793.5,395.2 794.4,394.7 795.3,394.3 796.1,393.8 797.0,393.3 797.9,392.8 798.8,392.3 799.7,391.9 800.5,391.4 801.4,390.9 802.3,390.5 803.2,390.0 804.1,389.5 805.0,389.1 805.9,388.6 806.8,388.2 807.7,387.7 808.5,387.3 809.4,386.8 810.3,386.4 811.2,386.0 812.2,385.5 813.1,385.1 814.0,384.7 814.9,384.3 815.8,383.9 816.7,383.5 817.6,383.1 818.5,382.7 819.5,382.3 820.4,381.9 821.3,381.5 822.2,381.1 823.1,380.7 824.1,380.4 825.0,380.0 825.9,379.7 826.9,379.3 827.8,379.0 828.8,378.6 829.7,378.3 830.7,378.0 831.6,377.6 832.5,377.3 833.5,377.0 834.5,376.7 835.4,376.4 836.4,376.1 837.3,375.8 838.3,375.6 839.2,375.3 840.2,375.0 841.2,374.7 842.1,374.5 843.1,374.2 844.1,374.0 845.0,373.7 846.0,373.5 847.0,373.2 847.9,373.0 848.9,372.7 849.9,372.5 850.9,372.2 851.8,372.0 852.8,371.8 853.8,371.5 854.7,371.3 855.7,371.1 856.7,370.9 857.7,370.6 858.6,370.4 859.6,370.2 860.6,370.0 861.6,369.7 862.5,369.5 863.5,369.3 864.5,369.1 865.5,368.9 866.5,368.7 867.4,368.5 868.4,368.3 869.4,368.1 870.4,367.9 871.4,367.7 872.4,367.6 873.3,367.4 874.3,367.2 875.3,367.1 876.3,366.9 877.3,366.8 878.3,366.6 879.3,366.5 880.3,366.4 881.3,366.3 882.3,366.2 883.2,366.1 884.2,366.0 885.2,365.9 886.2,365.8 887.2,365.7 888.2,365.7 889.2,365.6 890.2,365.6 891.2,365.6 892.2,365.5 893.2,365.5 894.2,365.5 895.2,365.5 896.2,365.5 897.2,365.6 898.2,365.6 899.2,365.7 900.2,365.7 901.2,365.8 902.2,365.9 903.2,366.0 904.2,366.1 905.2,366.2 906.2,366.4 907.2,366.5 908.2,366.6 909.2,366.8 910.1,367.0 911.1,367.2 912.1,367.4 913.1,367.6 914.1,367.8 915.0,368.0 916.0,368.3 917.0,368.5 917.9,368.8 918.9,369.0 919.9,369.3 920.8,369.6 921.8,369.9 922.7,370.2 923.7,370.5 924.6,370.9 925.6,371.2 926.5,371.5 927.4,371.9 928.4,372.2 929.3,372.6 930.2,373.0 931.2,373.4 932.1,373.8 933.0,374.2 933.9,374.6 934.8,375.0 935.7,375.4 936.7,375.8 937.6,376.2 938.5,376.6 939.4,377.0 940.3,377.5 941.2,377.9 942.1,378.3 943.0,378.7 943.9,379.1 944.8,379.5 945.8,379.9 946.7,380.3 947.6,380.7 948.5,381.1 949.4,381.5 950.3,381.9 951.3,382.3 952.2,382.6 953.1,383.0 954.1,383.3 955.0,383.7 956.0,384.0 956.9,384.3 957.9,384.6 958.8,384.9 959.8,385.2 960.8,385.4 961.7,385.7 962.7,385.9 963.7,386.1 964.7,386.3 965.7,386.5 966.6,386.6 967.6,386.8 968.6,386.9 969.6,387.0 970.6,387.1 971.6,387.2 972.6,387.2 973.6,387.3 974.6,387.3 975.6,387.3 976.6,387.3 977.6,387.2 978.6,387.2 979.6,387.1 980.6,387.0 981.6,386.8 982.6,386.7 983.6,386.5 984.5,386.3 985.5,386.1 986.5,385.9 987.5,385.6 988.4,385.4 989.4,385.1 990.3,384.8 991.3,384.5 992.2,384.1 993.2,383.8 994.1,383.4 995.0,383.1 996.0,382.7 996.9,382.3 997.8,381.9 998.7,381.4 999.6,381.0 1000.5,380.6 1001.4,380.1 1002.3,379.7 1003.2,379.2 1004.0,378.7 1004.9,378.2 1005.8,377.7 1006.6,377.2 1007.5,376.7 1008.4,376.2 1009.2,375.7 1010.1,375.1 1010.9,374.6 1011.7,374.1 1012.6,373.5 1013.4,372.9 1014.2,372.4 1015.1,371.8 1015.9,371.2 1016.7,370.7 1017.5,370.1 1018.3,369.5 1019.1,368.9 1019.9,368.3 1020.7,367.7 1021.5,367.1 1022.3,366.5 1023.1,365.8 1023.9,365.2 1024.6,364.6 1025.4,364.0 1026.2,363.3 1027.0,362.7 1027.7,362.1 1028.5,361.4 1029.3,360.8 1030.1,360.2 1030.8,359.5 1031.6,358.9 1032.3,358.2 1033.1,357.6 1033.9,356.9 1034.6,356.3 1035.4,355.6 1036.1,355.0 1036.9,354.3 1037.7,353.7 1038.4,353.0 1039.2,352.3 1039.9,351.7 1040.7,351.0 1041.4,350.4 1042.2,349.7 1043.0,349.1 1043.7,348.4 1044.5,347.8 1045.2,347.1 1046.0,346.5 1046.8,345.9 1047.5,345.2 1048.3,344.6 1049.1,343.9 1049.9,343.3 1050.6,342.7 1051.4,342.1 1052.2,341.4 1053.0,340.8 1053.8,340.2 1054.6,339.6 1055.4,339.0 1056.2,338.4 1057.0,337.8 1057.8,337.2 1058.6,336.6 1059.4,336.0 1060.2,335.5 1061.1,334.9 1061.9,334.4 1062.7,333.8 1063.6,333.3 1064.4,332.7 1065.3,332.2 1066.1,331.7 1067.0,331.2 1067.8,330.7 1068.7,330.2 1069.6,329.7 1070.5,329.2 1071.4,328.8 1072.2,328.3 1073.1,327.8 1074.0,327.4 1074.9,327.0 1075.8,326.5 1076.7,326.1 1077.7,325.7 1078.6,325.3 1079.5,324.9 1080.4,324.5 1081.3,324.1 1082.2,323.7 1083.2,323.3 1084.1,323.0 1085.0,322.6 1086.0,322.2 1086.9,321.9 1087.8,321.5 1088.8,321.2 1089.7,320.9 1090.7,320.5 1091.6,320.2 1092.5,319.9 1093.5,319.5 1094.4,319.2 1095.4,318.9 1096.4,318.6 1097.3,318.3 1098.3,318.1 1099.2,317.8 1100.2,317.5 1101.2,317.3 1102.1,317.0 1103.1,316.8 1104.1,316.5 1105.1,316.3 1106.0,316.1 1107.0,315.9 1108.0,315.7 1109.0,315.6 1110.0,315.4 1111.0,315.2 1111.9,315.1 1112.9,315.0 1113.9,314.9 1114.9,314.7 1115.9,314.7 1116.9,314.6 1117.9,314.5 1118.9,314.4 1119.9,314.4 1120.9,314.3 1121.9,314.3 1122.9,314.3 1123.9,314.3 1124.9,314.3 1125.9,314.3 1126.9,314.3 1127.9,314.3 1128.9,314.3 1129.9,314.3 1130.9,314.4 1131.9,314.4 1132.9,314.4 1133.9,314.5 1134.9,314.5 1135.9,314.6 1136.9,314.7 1137.9,314.7 1138.9,314.8 1139.9,314.9 1140.9,315.0 1141.9,315.1 1142.9,315.2 1143.9,315.3 1144.9,315.5 1145.8,315.6 1146.8,315.8 1147.8,316.0 1148.8,316.3 1149.7,316.5 1150.7,316.8 1151.7,317.1 1152.6,317.5 1153.5,317.8 1154.4,318.2 1155.4,318.6 1156.3,319.1 1157.1,319.5 1158.0,320.0 1158.9,320.5 1159.7,321.1 1160.6,321.6 1161.4,322.2 1162.2,322.8 1163.0,323.4 1163.8,324.0 1164.6,324.6 1165.3,325.2 1166.1,325.9 1166.8,326.6 1167.6,327.2 1168.3,327.9 1169.0,328.6 1169.7,329.3 1170.4,330.0 1171.1,330.8 1171.8,331.5 1172.5,332.2 1173.2,333.0 1173.8,333.7 1174.5,334.5 1175.1,335.2 1175.8,336.0 1176.4,336.8 1177.1,337.5 1177.7,338.3 1178.3,339.1 1178.9,339.9 1179.5,340.7 1180.1,341.5 1180.7,342.3 1181.3,343.1 1181.9,343.9 1182.5,344.7 1183.1,345.5 1183.6,346.4 1184.2,347.2 1184.7,348.0 1185.3,348.9 1185.8,349.7 1186.3,350.6 1186.8,351.4 1187.3,352.3 1187.8,353.2 1188.3,354.0 1188.8,354.9 1189.3,355.8 1189.7,356.7 1190.2,357.6 1190.6,358.5 1191.1,359.4 1191.5,360.2 1192.0,361.1 1192.4,362.0 1192.8,363.0 1193.3,363.9 1193.7,364.8 1194.1,365.7 1194.5,366.6 1194.9,367.5 1195.3,368.4 1195.7,369.3 1196.2,370.2 1196.6,371.2 1197.0,372.1 1197.4,373.0 1197.8,373.9 1198.2,374.8 1198.6,375.7 1199.0,376.7 1199.4,377.6 1199.8,378.5 1200.2,379.4 1200.6,380.3 1201.0,381.2 1201.4,382.1 1201.8,383.1 1202.2,384.0 1202.6,384.9 1203.0,385.8 1203.4,386.7 1203.8,387.6 1204.2,388.5 1204.6,389.5 1205.1,390.4 1205.5,391.3 1205.9,392.2 1206.3,393.1 1206.8,394.0 1207.2,394.9 1207.6,395.8 1208.1,396.7 1208.5,397.6 1209.0,398.5 1209.4,399.4 1209.9,400.3 1210.3,401.2 1210.8,402.0 1211.2,402.9 1211.7,403.8 1212.2,404.7 1212.6,405.6 1213.1,406.5 1213.6,407.3 1214.1,408.2 1214.6,409.1 1215.1,410.0 1215.6,410.8 1216.1,411.7 1216.6,412.5 1217.1,413.4 1217.6,414.3 1218.1,415.1 1218.7,416.0 1219.2,416.8 1219.7,417.6 1220.3,418.5 1220.8,419.3 1221.4,420.1 1222.0,421.0 1222.5,421.8 1223.1,422.6 1223.7,423.4 1224.3,424.2 1224.9,425.0 1225.5,425.8 1226.1,426.6 1226.7,427.4 1227.4,428.2 1228.0,428.9 1228.7,429.7 1229.3,430.4 1230.0,431.2 1230.7,431.9 1231.3,432.7 1232.0,433.4 1232.7,434.1 1233.4,434.8 1234.2,435.5 1234.9,436.2 1235.6,436.8 1236.4,437.5 1237.2,438.1 1237.9,438.8 1238.7,439.4 1239.5,440.0 1240.3,440.6 1241.2,441.1 1242.0,441.7 1242.8,442.2 1243.7,442.8 1244.6,443.3 1245.4,443.7 1246.3,444.2 1247.2,444.7 1248.1,445.1 1249.0,445.5 1249.9,445.9 1250.9,446.3 1251.8,446.7 1252.7,447.0 1253.7,447.3 1254.6,447.6 1255.6,447.9 1256.5,448.2 1257.5,448.4 1258.5,448.7 1259.5,448.9 1260.4,449.1 1261.4,449.2 1262.4,449.4 1263.4,449.5 1264.4,449.6 1265.4,449.7 1266.4,449.7 1267.4,449.8 1268.4,449.8 1269.4,449.8 1270.4,449.8 1271.4,449.7 1272.4,449.7 1273.4,449.6 1274.4,449.5 1275.4,449.4 1276.4,449.3 1277.4,449.1 1278.4,449.0 1279.3,448.8 1280.3,448.6 1281.3,448.4 1282.3,448.2 1283.3,447.9 1284.2,447.7 1285.2,447.4 1286.1,447.1 1287.1,446.8 1288.0,446.5 1289.0,446.2 1289.9,445.8 1290.9,445.5 1291.8,445.1 1292.7,444.7 1293.6,444.3 1294.5,443.9 1295.4,443.4 1296.3,443.0 1297.2,442.5 1298.1,442.1 1299.0,441.6 1299.8,441.1 1300.7,440.6 1301.6,440.1 1302.4,439.5 1303.3,439.0 1304.1,438.5 1304.9,437.9 1305.8,437.4 1306.6,436.8 1307.4,436.3 1308.3,435.7 1309.1,435.1 1309.9,434.5 1310.7,434.0 1311.5,433.4 1312.3,432.8 1313.2,432.2 1314.0,431.6 1314.8,431.0 1315.6,430.5 1316.4,429.9 1317.2,429.3 1318.0,428.7 1318.8,428.1 1319.7,427.6 1320.5,427.0 1321.3,426.4 1322.1,425.9 1323.0,425.3 1323.8,424.7 1324.6,424.2 1325.5,423.6 1326.3,423.1 1327.1,422.6 1328.0,422.0 1328.8,421.5 1329.7,421.0 1330.5,420.4 1331.4,419.9 1332.2,419.4 1333.1,418.9 1334.0,418.4 1334.8,417.9 1335.7,417.4 1336.6,416.9 1337.5,416.4 1338.3,416.0 1339.2,415.5 1340.1,415.0 1341.0,414.6 1341.9,414.1 1342.8,413.7 1343.7,413.3 1344.6,412.9 1345.5,412.4 1346.4,412.0 1347.4,411.6 1348.3,411.3 1349.2,410.9 1350.1,410.5 1351.1,410.2 1352.0,409.8 1353.0,409.5 1353.9,409.2 1354.9,408.9 1355.8,408.6 1356.8,408.3 1357.8,408.1 1358.7,407.8 1359.7,407.6 1360.7,407.3 1361.6,407.1 1362.6,406.9 1363.6,406.8 1364.6,406.6 1365.6,406.5 1366.6,406.3 1367.6,406.2 1368.6,406.1 1369.6,406.1 1370.6,406.0 1371.6,406.0 1372.6,405.9 1373.6,405.9 1374.6,405.9 1375.6,405.9 1376.6,406.0 1377.6,406.0 1378.6,406.1 1379.6,406.2 1380.6,406.3 1381.5,406.4 1382.5,406.5 1383.5,406.6 1384.5,406.8 1385.5,407.0 1386.5,407.1 1387.5,407.3 1388.4,407.5 1389.4,407.8 1390.4,408.0 1391.4,408.2 1392.3,408.5 1393.3,408.8 1394.3,409.1 1395.2,409.4 1396.2,409.7 1397.1,410.0 1398.0,410.3 1399.0,410.7 1399.9,411.1 1400.8,411.4 1401.7,411.8 1402.7,412.3 1403.6,412.7 1404.5,413.1 1405.4,413.6 1406.2,414.0 1407.1,414.5 1408.0,415.0 1408.9,415.5 1409.7,416.0 1410.6,416.5 1411.4,417.1 1412.2,417.6 1413.1,418.2 1413.9,418.8" stroke="#000000"/>
</g>
<g fill="none" stroke-width="3.9">
<rect x="546.1" y="884.4" width="65.9" height="138.9" stroke="#ff0000"/>
<rect x="623.0" y="884.4" width="53.7" height="138.9" stroke="#c00000"/>
<rect x="689.5" y="884.4" width="186.0" height="138.9" stroke="#5e2020"/>
</g>
<text transform="translate(482.88,993.7) scale(1,1.025)" font-size="49.2" fill="#ff0000">Red</text>
<text transform="translate(616.78,862.5) scale(1,1.025)" font-size="49.2" fill="#c00000">Red-edge</text>
<text transform="translate(733.68,953.5) scale(1,1.025)" font-size="49.2" fill="#5e2020">NIR</text>
<rect x="151.9" y="2.0" width="1320.9" height="1072.6" fill="none" stroke="#7f7f7f" stroke-width="2.4"/>
<g stroke="#000000" stroke-width="4.7" fill="none">
<line x1="210.70" y1="1075.8" x2="210.70" y2="1095.9"/>
<line x1="478.10" y1="1075.8" x2="478.10" y2="1095.9"/>
<line x1="745.50" y1="1075.8" x2="745.50" y2="1095.9"/>
<line x1="1012.90" y1="1075.8" x2="1012.90" y2="1095.9"/>
<line x1="1280.30" y1="1075.8" x2="1280.30" y2="1095.9"/>
<line x1="130.7" y1="1027.40" x2="150.7" y2="1027.40"/>
<line x1="130.7" y1="831.84" x2="150.7" y2="831.84"/>
<line x1="130.7" y1="636.28" x2="150.7" y2="636.28"/>
<line x1="130.7" y1="440.72" x2="150.7" y2="440.72"/>
<line x1="130.7" y1="245.16" x2="150.7" y2="245.16"/>
<line x1="130.7" y1="49.60" x2="150.7" y2="49.60"/>
</g>
<text transform="translate(210.5,1140) scale(1,1.025)" font-size="46" fill="#000000" text-anchor="middle">400</text>
<text transform="translate(477.9,1140) scale(1,1.025)" font-size="46" fill="#000000" text-anchor="middle">600</text>
<text transform="translate(745.3,1140) scale(1,1.025)" font-size="46" fill="#000000" text-anchor="middle">800</text>
<text transform="translate(1012.7,1140) scale(1,1.025)" font-size="46" fill="#000000" text-anchor="middle">1000</text>
<text transform="translate(1280.1,1140) scale(1,1.025)" font-size="46" fill="#000000" text-anchor="middle">1200</text>
<text transform="translate(117.5,1042.8) scale(1,1.025)" font-size="46" fill="#000000" text-anchor="end">0.0</text>
<text transform="translate(117.5,847.24) scale(1,1.025)" font-size="46" fill="#000000" text-anchor="end">0.1</text>
<text transform="translate(117.5,651.68) scale(1,1.025)" font-size="46" fill="#000000" text-anchor="end">0.2</text>
<text transform="translate(117.5,456.12) scale(1,1.025)" font-size="46" fill="#000000" text-anchor="end">0.3</text>
<text transform="translate(117.5,260.56) scale(1,1.025)" font-size="46" fill="#000000" text-anchor="end">0.4</text>
<text transform="translate(117.5,65) scale(1,1.025)" font-size="46" fill="#000000" text-anchor="end">0.5</text>
<text transform="translate(596.2,1207.3)" font-size="61.3" fill="#000000" dx="0 -1.12 -0.92 0.04 -0.28 -0.9 -1.13 -0.09 0.07 -0.67">Wavelength <tspan font-size="71.8" dx="0.04" dy="-1.3">(</tspan><tspan dx="-0.81" dy="1.3">nm</tspan><tspan font-size="71.8" dx="-0.44" dy="-1.3">)</tspan></text>
<text transform="translate(42.8,759.43) rotate(-90)" font-size="61.3" fill="#000000" dx="0 -0.39 0.55 -1.43 0.13 -0.5 -0.16 -0.16 -1.46 -0.11 -0.07 0 -0.23 -0.89 -0.37 -0.21 -0.27 -0.63">Reflectance factor</text>
<text transform="translate(1539.41,339.7) scale(1,1.025)" font-size="46" fill="#000000">GCF<tspan font-size="32.2" dy="7.3" dx="0.6">vis</tspan></text>
<line x1="1548.0" y1="407.60" x2="1612.0" y2="407.60" stroke="#bebebe" stroke-width="5.0" stroke-dasharray="4.91 14.73"/>
<text transform="translate(1629.8,423.2) scale(1,1.025)" font-size="46" fill="#000000">0.0</text>
<line x1="1548.0" y1="487.82" x2="1612.0" y2="487.82" stroke="#a9a9a9" stroke-width="5.0" stroke-dasharray="9.82 9.82 29.46 9.82"/>
<text transform="translate(1629.8,503.42) scale(1,1.025)" font-size="46" fill="#000000" dx="0 0 0 0.9 0.9 0 0 0">0.0−0.25</text>
<line x1="1548.0" y1="568.04" x2="1612.0" y2="568.04" stroke="#8e8e8e" stroke-width="5.0" stroke-dasharray="19.64 19.64"/>
<text transform="translate(1629.8,583.64) scale(1,1.025)" font-size="46" fill="#000000" dx="0 0 0 0 0.9 0.9 0 0 0">0.25−0.50</text>
<line x1="1548.0" y1="648.26" x2="1612.0" y2="648.26" stroke="#6e6e6e" stroke-width="5.0"/>
<text transform="translate(1629.8,663.86) scale(1,1.025)" font-size="46" fill="#000000" dx="0 0 0 0 0.9 0.9 0 0 0">0.50−0.75</text>
<line x1="1548.0" y1="728.48" x2="1612.0" y2="728.48" stroke="#000000" stroke-width="5.0"/>
<text transform="translate(1629.8,744.08) scale(1,1.025)" font-size="46" fill="#000000" dx="0 0 0 0 0.9 0.9 0 0">0.75−1.0</text>
</svg>
</body>
</html>
